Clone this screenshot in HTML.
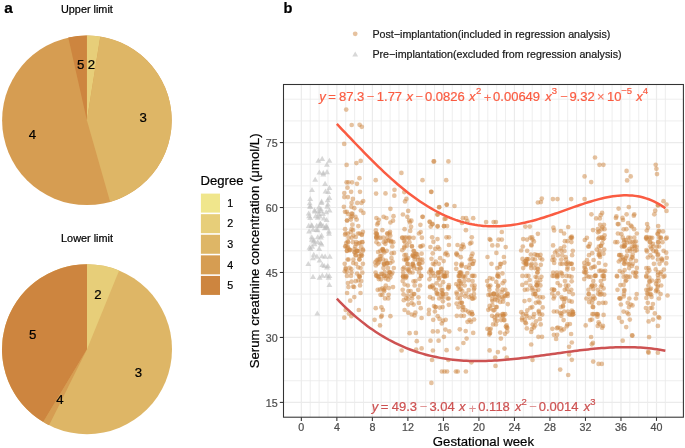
<!DOCTYPE html>
<html><head><meta charset="utf-8"><style>
html,body{margin:0;padding:0;background:#fff;width:685px;height:448px;overflow:hidden;}
svg{display:block;will-change:transform;font-family:"Liberation Sans", sans-serif;}
</style></head><body>
<svg width="685" height="448" viewBox="0 0 685 448" font-family="'Liberation Sans', sans-serif">
<text x="4.3" y="12.7" font-size="15.4" font-weight="bold" fill="#000" stroke="#000" stroke-width="0.22">a</text>
<text x="86.9" y="13.1" font-size="10.85" text-anchor="middle" fill="#000" stroke="#000" stroke-width="0.22">Upper limit</text>
<circle cx="86.9" cy="120.3" r="84.8" fill="#D69D52"/>
<path d="M86.90,120.30 L86.90,35.50 A84.8,84.8 0 0 1 100.31,36.57 Z" fill="#E7CE79"/>
<path d="M86.90,120.30 L100.31,36.57 A84.8,84.8 0 0 1 110.13,201.86 Z" fill="#DEB666"/>
<path d="M86.90,120.30 L68.26,37.57 A84.8,84.8 0 0 1 86.90,35.50 Z" fill="#CD853F"/>
<text x="91.32" y="69.17" text-anchor="middle" font-size="13.2" fill="#000" stroke="#000" stroke-width="0.22">2</text>
<text x="143.09" y="121.72" text-anchor="middle" font-size="13.2" fill="#000" stroke="#000" stroke-width="0.22">3</text>
<text x="32.34" y="139.21" text-anchor="middle" font-size="13.2" fill="#000" stroke="#000" stroke-width="0.22">4</text>
<text x="80.67" y="69.35" text-anchor="middle" font-size="13.2" fill="#000" stroke="#000" stroke-width="0.22">5</text>
<text x="87" y="242.0" font-size="10.85" text-anchor="middle" fill="#000" stroke="#000" stroke-width="0.22">Lower limit</text>
<circle cx="87" cy="349.2" r="85.0" fill="#DEB666"/>
<path d="M87.00,349.20 L87.00,264.20 A85.0,85.0 0 0 1 119.12,270.50 Z" fill="#E7CE79"/>
<path d="M87.00,349.20 L49.07,425.27 A85.0,85.0 0 0 1 43.22,422.06 Z" fill="#D69D52"/>
<path d="M87.00,349.20 L43.22,422.06 A85.0,85.0 0 0 1 87.00,264.20 Z" fill="#CD853F"/>
<text x="97.88" y="298.76" text-anchor="middle" font-size="13.2" fill="#000" stroke="#000" stroke-width="0.22">2</text>
<text x="138.49" y="377.45" text-anchor="middle" font-size="13.2" fill="#000" stroke="#000" stroke-width="0.22">3</text>
<text x="59.82" y="403.74" text-anchor="middle" font-size="13.2" fill="#000" stroke="#000" stroke-width="0.22">4</text>
<text x="32.55" y="339.10" text-anchor="middle" font-size="13.2" fill="#000" stroke="#000" stroke-width="0.22">5</text>
<text x="200.6" y="184.6" font-size="13.1" fill="#000" stroke="#000" stroke-width="0.22">Degree</text>
<rect x="200.9" y="193.60" width="19.1" height="19.0" fill="#F0E68C"/>
<text x="227.3" y="206.80" font-size="10.7" fill="#000" stroke="#000" stroke-width="0.22">1</text>
<rect x="200.9" y="214.18" width="19.1" height="19.0" fill="#E7CE79"/>
<text x="227.3" y="227.38" font-size="10.7" fill="#000" stroke="#000" stroke-width="0.22">2</text>
<rect x="200.9" y="234.76" width="19.1" height="19.0" fill="#DEB666"/>
<text x="227.3" y="247.96" font-size="10.7" fill="#000" stroke="#000" stroke-width="0.22">3</text>
<rect x="200.9" y="255.34" width="19.1" height="19.0" fill="#D69D52"/>
<text x="227.3" y="268.54" font-size="10.7" fill="#000" stroke="#000" stroke-width="0.22">4</text>
<rect x="200.9" y="275.92" width="19.1" height="19.0" fill="#CD853F"/>
<text x="227.3" y="289.12" font-size="10.7" fill="#000" stroke="#000" stroke-width="0.22">5</text>
<text x="283.6" y="12.6" font-size="14.6" font-weight="bold" fill="#000" stroke="#000" stroke-width="0.22">b</text>
<circle cx="355.2" cy="33.8" r="2.4" fill="#CD853F" fill-opacity="0.5"/>
<text x="372.4" y="37.8" font-size="10.7" fill="#1a1a1a" stroke="#1a1a1a" stroke-width="0.22">Post−implantation(included in regression analysis)</text>
<polygon points="355.20,51.44 358.10,56.46 352.30,56.46" fill="#BEBEBE" fill-opacity="0.6"/>
<text x="372.4" y="58.2" font-size="10.7" fill="#1a1a1a" stroke="#1a1a1a" stroke-width="0.22">Pre−implantation(excluded from regression analysis)</text>
<line x1="283.5" x2="683.4" y1="402.40" y2="402.40" stroke="#EBEBEB" stroke-width="1.2"/>
<line x1="283.5" x2="683.4" y1="380.75" y2="380.75" stroke="#EBEBEB" stroke-width="0.85"/>
<line x1="283.5" x2="683.4" y1="359.09" y2="359.09" stroke="#EBEBEB" stroke-width="0.85"/>
<line x1="283.5" x2="683.4" y1="337.44" y2="337.44" stroke="#EBEBEB" stroke-width="1.2"/>
<line x1="283.5" x2="683.4" y1="315.79" y2="315.79" stroke="#EBEBEB" stroke-width="0.85"/>
<line x1="283.5" x2="683.4" y1="294.13" y2="294.13" stroke="#EBEBEB" stroke-width="0.85"/>
<line x1="283.5" x2="683.4" y1="272.48" y2="272.48" stroke="#EBEBEB" stroke-width="1.2"/>
<line x1="283.5" x2="683.4" y1="250.83" y2="250.83" stroke="#EBEBEB" stroke-width="0.85"/>
<line x1="283.5" x2="683.4" y1="229.17" y2="229.17" stroke="#EBEBEB" stroke-width="0.85"/>
<line x1="283.5" x2="683.4" y1="207.52" y2="207.52" stroke="#EBEBEB" stroke-width="1.2"/>
<line x1="283.5" x2="683.4" y1="185.86" y2="185.86" stroke="#EBEBEB" stroke-width="0.85"/>
<line x1="283.5" x2="683.4" y1="164.21" y2="164.21" stroke="#EBEBEB" stroke-width="0.85"/>
<line x1="283.5" x2="683.4" y1="142.56" y2="142.56" stroke="#EBEBEB" stroke-width="1.2"/>
<line x1="283.5" x2="683.4" y1="120.90" y2="120.90" stroke="#EBEBEB" stroke-width="0.85"/>
<line x1="283.5" x2="683.4" y1="99.25" y2="99.25" stroke="#EBEBEB" stroke-width="0.85"/>
<line x1="301.34" x2="301.34" y1="84.5" y2="417.2" stroke="#EBEBEB" stroke-width="1.2"/>
<line x1="310.22" x2="310.22" y1="84.5" y2="417.2" stroke="#EBEBEB" stroke-width="0.85"/>
<line x1="319.10" x2="319.10" y1="84.5" y2="417.2" stroke="#EBEBEB" stroke-width="0.85"/>
<line x1="327.98" x2="327.98" y1="84.5" y2="417.2" stroke="#EBEBEB" stroke-width="0.85"/>
<line x1="336.86" x2="336.86" y1="84.5" y2="417.2" stroke="#EBEBEB" stroke-width="1.2"/>
<line x1="345.73" x2="345.73" y1="84.5" y2="417.2" stroke="#EBEBEB" stroke-width="0.85"/>
<line x1="354.61" x2="354.61" y1="84.5" y2="417.2" stroke="#EBEBEB" stroke-width="0.85"/>
<line x1="363.49" x2="363.49" y1="84.5" y2="417.2" stroke="#EBEBEB" stroke-width="0.85"/>
<line x1="372.37" x2="372.37" y1="84.5" y2="417.2" stroke="#EBEBEB" stroke-width="1.2"/>
<line x1="381.25" x2="381.25" y1="84.5" y2="417.2" stroke="#EBEBEB" stroke-width="0.85"/>
<line x1="390.13" x2="390.13" y1="84.5" y2="417.2" stroke="#EBEBEB" stroke-width="0.85"/>
<line x1="399.01" x2="399.01" y1="84.5" y2="417.2" stroke="#EBEBEB" stroke-width="0.85"/>
<line x1="407.89" x2="407.89" y1="84.5" y2="417.2" stroke="#EBEBEB" stroke-width="1.2"/>
<line x1="416.77" x2="416.77" y1="84.5" y2="417.2" stroke="#EBEBEB" stroke-width="0.85"/>
<line x1="425.65" x2="425.65" y1="84.5" y2="417.2" stroke="#EBEBEB" stroke-width="0.85"/>
<line x1="434.52" x2="434.52" y1="84.5" y2="417.2" stroke="#EBEBEB" stroke-width="0.85"/>
<line x1="443.40" x2="443.40" y1="84.5" y2="417.2" stroke="#EBEBEB" stroke-width="1.2"/>
<line x1="452.28" x2="452.28" y1="84.5" y2="417.2" stroke="#EBEBEB" stroke-width="0.85"/>
<line x1="461.16" x2="461.16" y1="84.5" y2="417.2" stroke="#EBEBEB" stroke-width="0.85"/>
<line x1="470.04" x2="470.04" y1="84.5" y2="417.2" stroke="#EBEBEB" stroke-width="0.85"/>
<line x1="478.92" x2="478.92" y1="84.5" y2="417.2" stroke="#EBEBEB" stroke-width="1.2"/>
<line x1="487.80" x2="487.80" y1="84.5" y2="417.2" stroke="#EBEBEB" stroke-width="0.85"/>
<line x1="496.68" x2="496.68" y1="84.5" y2="417.2" stroke="#EBEBEB" stroke-width="0.85"/>
<line x1="505.56" x2="505.56" y1="84.5" y2="417.2" stroke="#EBEBEB" stroke-width="0.85"/>
<line x1="514.44" x2="514.44" y1="84.5" y2="417.2" stroke="#EBEBEB" stroke-width="1.2"/>
<line x1="523.31" x2="523.31" y1="84.5" y2="417.2" stroke="#EBEBEB" stroke-width="0.85"/>
<line x1="532.19" x2="532.19" y1="84.5" y2="417.2" stroke="#EBEBEB" stroke-width="0.85"/>
<line x1="541.07" x2="541.07" y1="84.5" y2="417.2" stroke="#EBEBEB" stroke-width="0.85"/>
<line x1="549.95" x2="549.95" y1="84.5" y2="417.2" stroke="#EBEBEB" stroke-width="1.2"/>
<line x1="558.83" x2="558.83" y1="84.5" y2="417.2" stroke="#EBEBEB" stroke-width="0.85"/>
<line x1="567.71" x2="567.71" y1="84.5" y2="417.2" stroke="#EBEBEB" stroke-width="0.85"/>
<line x1="576.59" x2="576.59" y1="84.5" y2="417.2" stroke="#EBEBEB" stroke-width="0.85"/>
<line x1="585.47" x2="585.47" y1="84.5" y2="417.2" stroke="#EBEBEB" stroke-width="1.2"/>
<line x1="594.35" x2="594.35" y1="84.5" y2="417.2" stroke="#EBEBEB" stroke-width="0.85"/>
<line x1="603.23" x2="603.23" y1="84.5" y2="417.2" stroke="#EBEBEB" stroke-width="0.85"/>
<line x1="612.11" x2="612.11" y1="84.5" y2="417.2" stroke="#EBEBEB" stroke-width="0.85"/>
<line x1="620.98" x2="620.98" y1="84.5" y2="417.2" stroke="#EBEBEB" stroke-width="1.2"/>
<line x1="629.86" x2="629.86" y1="84.5" y2="417.2" stroke="#EBEBEB" stroke-width="0.85"/>
<line x1="638.74" x2="638.74" y1="84.5" y2="417.2" stroke="#EBEBEB" stroke-width="0.85"/>
<line x1="647.62" x2="647.62" y1="84.5" y2="417.2" stroke="#EBEBEB" stroke-width="0.85"/>
<line x1="656.50" x2="656.50" y1="84.5" y2="417.2" stroke="#EBEBEB" stroke-width="1.2"/>
<line x1="665.38" x2="665.38" y1="84.5" y2="417.2" stroke="#EBEBEB" stroke-width="0.85"/>
<g fill="#BEBEBE" fill-opacity="0.6"><polygon points="318.40,157.69 321.35,162.80 315.45,162.80"/><polygon points="322.20,155.79 325.15,160.90 319.25,160.90"/><polygon points="329.40,157.69 332.35,162.80 326.45,162.80"/><polygon points="326.90,161.69 329.85,166.80 323.95,166.80"/><polygon points="319.40,169.49 322.35,174.60 316.45,174.60"/><polygon points="323.30,169.89 326.25,175.00 320.35,175.00"/><polygon points="327.00,169.09 329.95,174.20 324.05,174.20"/><polygon points="323.30,171.39 326.25,176.50 320.35,176.50"/><polygon points="315.20,176.69 318.15,181.80 312.25,181.80"/><polygon points="325.10,180.79 328.05,185.90 322.15,185.90"/><polygon points="329.40,184.99 332.35,190.10 326.45,190.10"/><polygon points="312.00,186.99 314.95,192.10 309.05,192.10"/><polygon points="325.50,188.49 328.45,193.60 322.55,193.60"/><polygon points="328.20,188.89 331.15,194.00 325.25,194.00"/><polygon points="310.20,195.94 313.15,201.05 307.25,201.05"/><polygon points="329.40,194.79 332.35,199.90 326.45,199.90"/><polygon points="327.70,197.09 330.65,202.20 324.75,202.20"/><polygon points="321.40,199.89 324.35,205.00 318.45,205.00"/><polygon points="309.70,200.19 312.65,205.30 306.75,205.30"/><polygon points="327.80,201.39 330.75,206.50 324.85,206.50"/><polygon points="309.80,203.39 312.75,208.50 306.85,208.50"/><polygon points="318.80,204.49 321.75,209.60 315.85,209.60"/><polygon points="320.80,206.09 323.75,211.20 317.85,211.20"/><polygon points="314.50,207.29 317.45,212.40 311.55,212.40"/><polygon points="326.25,209.19 329.20,214.30 323.30,214.30"/><polygon points="308.70,210.39 311.65,215.50 305.75,215.50"/><polygon points="314.90,208.39 317.85,213.50 311.95,213.50"/><polygon points="318.40,208.39 321.35,213.50 315.45,213.50"/><polygon points="320.80,207.99 323.75,213.10 317.85,213.10"/><polygon points="309.10,213.09 312.05,218.20 306.15,218.20"/><polygon points="310.20,214.99 313.15,220.10 307.25,220.10"/><polygon points="315.70,213.09 318.65,218.20 312.75,218.20"/><polygon points="317.70,214.59 320.65,219.70 314.75,219.70"/><polygon points="320.00,213.44 322.95,218.55 317.05,218.55"/><polygon points="323.90,215.39 326.85,220.50 320.95,220.50"/><polygon points="326.60,216.99 329.55,222.10 323.65,222.10"/><polygon points="308.70,222.79 311.65,227.90 305.75,227.90"/><polygon points="311.80,222.79 314.75,227.90 308.85,227.90"/><polygon points="320.40,220.49 323.35,225.60 317.45,225.60"/><polygon points="319.60,222.79 322.55,227.90 316.65,227.90"/><polygon points="326.25,222.79 329.20,227.90 323.30,227.90"/><polygon points="327.00,224.39 329.95,229.50 324.05,229.50"/><polygon points="324.70,225.19 327.65,230.30 321.75,230.30"/><polygon points="309.10,228.29 312.05,233.40 306.15,233.40"/><polygon points="313.00,226.69 315.95,231.80 310.05,231.80"/><polygon points="317.70,227.09 320.65,232.20 314.75,232.20"/><polygon points="329.00,230.59 331.95,235.70 326.05,235.70"/><polygon points="311.80,234.19 314.75,239.30 308.85,239.30"/><polygon points="317.70,234.19 320.65,239.30 314.75,239.30"/><polygon points="321.60,232.59 324.55,237.70 318.65,237.70"/><polygon points="320.80,234.49 323.75,239.60 317.85,239.60"/><polygon points="313.75,238.44 316.70,243.55 310.80,243.55"/><polygon points="317.70,239.19 320.65,244.30 314.75,244.30"/><polygon points="320.80,239.99 323.75,245.10 317.85,245.10"/><polygon points="314.50,241.09 317.45,246.20 311.55,246.20"/><polygon points="321.60,241.49 324.55,246.60 318.65,246.60"/><polygon points="309.50,244.59 312.45,249.70 306.55,249.70"/><polygon points="310.60,245.79 313.55,250.90 307.65,250.90"/><polygon points="319.20,245.79 322.15,250.90 316.25,250.90"/><polygon points="313.75,251.69 316.70,256.80 310.80,256.80"/><polygon points="316.90,253.59 319.85,258.70 313.95,258.70"/><polygon points="313.00,255.19 315.95,260.30 310.05,260.30"/><polygon points="322.00,253.19 324.95,258.30 319.05,258.30"/><polygon points="325.10,253.59 328.05,258.70 322.15,258.70"/><polygon points="329.80,253.59 332.75,258.70 326.85,258.70"/><polygon points="319.60,257.49 322.55,262.60 316.65,262.60"/><polygon points="308.30,260.99 311.25,266.10 305.35,266.10"/><polygon points="322.30,261.79 325.25,266.90 319.35,266.90"/><polygon points="324.30,262.99 327.25,268.10 321.35,268.10"/><polygon points="327.80,262.99 330.75,268.10 324.85,268.10"/><polygon points="327.00,264.49 329.95,269.60 324.05,269.60"/><polygon points="313.00,273.79 315.95,278.90 310.05,278.90"/><polygon points="319.60,274.59 322.55,279.70 316.65,279.70"/><polygon points="322.30,272.59 325.25,277.70 319.35,277.70"/><polygon points="326.60,272.59 329.55,277.70 323.65,277.70"/><polygon points="329.40,272.99 332.35,278.10 326.45,278.10"/><polygon points="328.60,274.59 331.55,279.70 325.65,279.70"/><polygon points="329.40,281.99 332.35,287.10 326.45,287.10"/><polygon points="317.30,310.49 320.25,315.60 314.35,315.60"/><polygon points="311.70,222.15 314.65,227.26 308.75,227.26"/><polygon points="321.63,198.62 324.58,203.73 318.68,203.73"/><polygon points="312.11,243.60 315.06,248.71 309.16,248.71"/><polygon points="310.48,203.68 313.43,208.79 307.53,208.79"/><polygon points="328.91,228.28 331.86,233.39 325.96,233.39"/><polygon points="316.75,222.76 319.70,227.87 313.80,227.87"/><polygon points="322.92,210.96 325.87,216.06 319.97,216.06"/><polygon points="311.90,236.59 314.85,241.70 308.95,241.70"/><polygon points="323.08,222.81 326.03,227.92 320.13,227.92"/><polygon points="326.15,224.64 329.10,229.75 323.20,229.75"/><polygon points="329.60,207.42 332.55,212.52 326.65,212.52"/><polygon points="320.63,221.37 323.58,226.48 317.68,226.48"/><polygon points="316.42,226.77 319.37,231.88 313.47,231.88"/><polygon points="313.94,237.30 316.89,242.41 310.99,242.41"/><polygon points="327.21,203.63 330.16,208.74 324.26,208.74"/><polygon points="318.81,211.05 321.76,216.16 315.86,216.16"/></g>
<g fill="#CD853F" fill-opacity="0.5"><circle cx="346.2" cy="109.6" r="2.35"/><circle cx="351.7" cy="125.0" r="2.35"/><circle cx="359.6" cy="124.8" r="2.35"/><circle cx="361.8" cy="126.8" r="2.35"/><circle cx="344.2" cy="143.9" r="2.35"/><circle cx="346.6" cy="164.9" r="2.35"/><circle cx="356.4" cy="163.1" r="2.35"/><circle cx="360.7" cy="160.9" r="2.35"/><circle cx="359.5" cy="178.2" r="2.35"/><circle cx="346.6" cy="182.3" r="2.35"/><circle cx="348.4" cy="182.3" r="2.35"/><circle cx="352.0" cy="182.3" r="2.35"/><circle cx="357.0" cy="183.8" r="2.35"/><circle cx="347.5" cy="187.7" r="2.35"/><circle cx="344.3" cy="193.0" r="2.35"/><circle cx="351.1" cy="191.8" r="2.35"/><circle cx="360.0" cy="191.8" r="2.35"/><circle cx="344.3" cy="197.1" r="2.35"/><circle cx="347.9" cy="197.1" r="2.35"/><circle cx="352.9" cy="198.9" r="2.35"/><circle cx="357.3" cy="202.9" r="2.35"/><circle cx="363.2" cy="201.1" r="2.35"/><circle cx="361.4" cy="202.9" r="2.35"/><circle cx="351.6" cy="202.9" r="2.35"/><circle cx="343.9" cy="206.8" r="2.35"/><circle cx="351.4" cy="206.8" r="2.35"/><circle cx="354.3" cy="208.2" r="2.35"/><circle cx="360.9" cy="210.5" r="2.35"/><circle cx="348.4" cy="287.1" r="2.35"/><circle cx="347.1" cy="293.0" r="2.35"/><circle cx="354.3" cy="297.1" r="2.35"/><circle cx="360.5" cy="293.0" r="2.35"/><circle cx="350.2" cy="300.7" r="2.35"/><circle cx="358.8" cy="310.0" r="2.35"/><circle cx="345.7" cy="310.0" r="2.35"/><circle cx="348.9" cy="313.6" r="2.35"/><circle cx="351.4" cy="316.2" r="2.35"/><circle cx="344.3" cy="317.7" r="2.35"/><circle cx="375.7" cy="180.2" r="2.35"/><circle cx="376.1" cy="193.6" r="2.35"/><circle cx="385.5" cy="193.4" r="2.35"/><circle cx="394.5" cy="189.8" r="2.35"/><circle cx="394.3" cy="195.7" r="2.35"/><circle cx="390.4" cy="208.8" r="2.35"/><circle cx="376.4" cy="218.0" r="2.35"/><circle cx="378.8" cy="219.8" r="2.35"/><circle cx="383.6" cy="216.8" r="2.35"/><circle cx="386.4" cy="218.0" r="2.35"/><circle cx="393.5" cy="216.2" r="2.35"/><circle cx="393.0" cy="220.7" r="2.35"/><circle cx="390.4" cy="222.5" r="2.35"/><circle cx="380.5" cy="294.8" r="2.35"/><circle cx="382.3" cy="294.8" r="2.35"/><circle cx="388.6" cy="294.8" r="2.35"/><circle cx="384.1" cy="291.2" r="2.35"/><circle cx="385.0" cy="298.4" r="2.35"/><circle cx="388.2" cy="298.4" r="2.35"/><circle cx="375.7" cy="308.2" r="2.35"/><circle cx="381.4" cy="307.3" r="2.35"/><circle cx="382.9" cy="310.0" r="2.35"/><circle cx="381.1" cy="316.8" r="2.35"/><circle cx="381.8" cy="315.7" r="2.35"/><circle cx="374.6" cy="319.8" r="2.35"/><circle cx="390.4" cy="316.2" r="2.35"/><circle cx="380.0" cy="325.4" r="2.35"/><circle cx="393.0" cy="287.1" r="2.35"/><circle cx="401.4" cy="172.9" r="2.35"/><circle cx="404.3" cy="192.1" r="2.35"/><circle cx="406.4" cy="198.9" r="2.35"/><circle cx="405.0" cy="201.4" r="2.35"/><circle cx="408.2" cy="210.9" r="2.35"/><circle cx="402.9" cy="214.5" r="2.35"/><circle cx="407.3" cy="216.8" r="2.35"/><circle cx="422.5" cy="216.8" r="2.35"/><circle cx="411.4" cy="220.7" r="2.35"/><circle cx="410.0" cy="222.5" r="2.35"/><circle cx="422.5" cy="180.2" r="2.35"/><circle cx="422.7" cy="216.8" r="2.35"/><circle cx="403.8" cy="300.2" r="2.35"/><circle cx="408.2" cy="304.6" r="2.35"/><circle cx="413.6" cy="304.6" r="2.35"/><circle cx="418.9" cy="302.9" r="2.35"/><circle cx="420.7" cy="308.2" r="2.35"/><circle cx="404.6" cy="310.0" r="2.35"/><circle cx="408.2" cy="312.7" r="2.35"/><circle cx="411.8" cy="314.5" r="2.35"/><circle cx="415.4" cy="312.7" r="2.35"/><circle cx="414.5" cy="315.4" r="2.35"/><circle cx="421.6" cy="318.0" r="2.35"/><circle cx="409.6" cy="333.2" r="2.35"/><circle cx="415.9" cy="332.9" r="2.35"/><circle cx="416.8" cy="341.2" r="2.35"/><circle cx="401.6" cy="350.5" r="2.35"/><circle cx="421.6" cy="348.4" r="2.35"/><circle cx="416.2" cy="349.6" r="2.35"/><circle cx="434.1" cy="161.4" r="2.35"/><circle cx="433.6" cy="161.4" r="2.35"/><circle cx="448.4" cy="161.4" r="2.35"/><circle cx="431.4" cy="191.8" r="2.35"/><circle cx="446.2" cy="180.2" r="2.35"/><circle cx="446.6" cy="204.6" r="2.35"/><circle cx="439.1" cy="207.3" r="2.35"/><circle cx="437.7" cy="214.5" r="2.35"/><circle cx="445.7" cy="218.6" r="2.35"/><circle cx="429.6" cy="221.6" r="2.35"/><circle cx="432.3" cy="224.3" r="2.35"/><circle cx="437.7" cy="226.1" r="2.35"/><circle cx="443.9" cy="226.1" r="2.35"/><circle cx="447.1" cy="226.1" r="2.35"/><circle cx="431.1" cy="191.8" r="2.35"/><circle cx="439.3" cy="207.0" r="2.35"/><circle cx="446.8" cy="204.8" r="2.35"/><circle cx="437.3" cy="214.6" r="2.35"/><circle cx="429.8" cy="222.1" r="2.35"/><circle cx="432.5" cy="223.9" r="2.35"/><circle cx="430.7" cy="226.6" r="2.35"/><circle cx="437.5" cy="226.6" r="2.35"/><circle cx="444.6" cy="218.9" r="2.35"/><circle cx="444.1" cy="226.2" r="2.35"/><circle cx="432.1" cy="237.3" r="2.35"/><circle cx="437.5" cy="239.1" r="2.35"/><circle cx="433.4" cy="241.8" r="2.35"/><circle cx="446.4" cy="237.3" r="2.35"/><circle cx="448.9" cy="237.3" r="2.35"/><circle cx="448.9" cy="245.0" r="2.35"/><circle cx="430.4" cy="247.1" r="2.35"/><circle cx="435.2" cy="248.9" r="2.35"/><circle cx="437.9" cy="247.1" r="2.35"/><circle cx="439.3" cy="248.9" r="2.35"/><circle cx="446.4" cy="252.9" r="2.35"/><circle cx="447.7" cy="255.2" r="2.35"/><circle cx="428.8" cy="313.9" r="2.35"/><circle cx="433.2" cy="319.8" r="2.35"/><circle cx="437.7" cy="316.2" r="2.35"/><circle cx="439.5" cy="318.9" r="2.35"/><circle cx="443.0" cy="320.7" r="2.35"/><circle cx="445.7" cy="319.8" r="2.35"/><circle cx="441.8" cy="323.4" r="2.35"/><circle cx="432.9" cy="331.4" r="2.35"/><circle cx="437.7" cy="331.4" r="2.35"/><circle cx="445.4" cy="329.6" r="2.35"/><circle cx="449.3" cy="331.4" r="2.35"/><circle cx="443.9" cy="336.8" r="2.35"/><circle cx="430.5" cy="340.7" r="2.35"/><circle cx="438.6" cy="340.7" r="2.35"/><circle cx="432.9" cy="350.5" r="2.35"/><circle cx="446.6" cy="350.2" r="2.35"/><circle cx="432.0" cy="360.0" r="2.35"/><circle cx="448.4" cy="360.0" r="2.35"/><circle cx="441.9" cy="371.5" r="2.35"/><circle cx="444.5" cy="371.5" r="2.35"/><circle cx="447.1" cy="371.5" r="2.35"/><circle cx="431.4" cy="382.9" r="2.35"/><circle cx="454.5" cy="206.0" r="2.35"/><circle cx="462.9" cy="218.2" r="2.35"/><circle cx="466.1" cy="218.2" r="2.35"/><circle cx="473.2" cy="218.2" r="2.35"/><circle cx="462.0" cy="223.0" r="2.35"/><circle cx="467.3" cy="221.2" r="2.35"/><circle cx="465.9" cy="230.2" r="2.35"/><circle cx="471.8" cy="237.3" r="2.35"/><circle cx="457.5" cy="245.0" r="2.35"/><circle cx="462.9" cy="244.5" r="2.35"/><circle cx="463.8" cy="247.1" r="2.35"/><circle cx="470.0" cy="243.6" r="2.35"/><circle cx="471.4" cy="242.7" r="2.35"/><circle cx="467.5" cy="321.8" r="2.35"/><circle cx="471.1" cy="321.8" r="2.35"/><circle cx="474.1" cy="319.5" r="2.35"/><circle cx="459.8" cy="329.3" r="2.35"/><circle cx="465.7" cy="331.1" r="2.35"/><circle cx="473.2" cy="332.9" r="2.35"/><circle cx="466.6" cy="338.6" r="2.35"/><circle cx="463.4" cy="343.0" r="2.35"/><circle cx="457.5" cy="348.6" r="2.35"/><circle cx="471.4" cy="362.3" r="2.35"/><circle cx="455.9" cy="371.5" r="2.35"/><circle cx="457.7" cy="371.5" r="2.35"/><circle cx="465.9" cy="371.5" r="2.35"/><circle cx="486.1" cy="222.1" r="2.35"/><circle cx="493.6" cy="222.1" r="2.35"/><circle cx="495.9" cy="222.1" r="2.35"/><circle cx="501.8" cy="232.0" r="2.35"/><circle cx="489.6" cy="239.1" r="2.35"/><circle cx="490.5" cy="240.0" r="2.35"/><circle cx="498.6" cy="239.6" r="2.35"/><circle cx="501.8" cy="239.6" r="2.35"/><circle cx="492.3" cy="245.4" r="2.35"/><circle cx="497.7" cy="245.4" r="2.35"/><circle cx="505.7" cy="247.1" r="2.35"/><circle cx="496.4" cy="252.9" r="2.35"/><circle cx="487.5" cy="257.0" r="2.35"/><circle cx="503.9" cy="257.0" r="2.35"/><circle cx="489.3" cy="334.6" r="2.35"/><circle cx="500.9" cy="338.6" r="2.35"/><circle cx="489.6" cy="350.4" r="2.35"/><circle cx="497.9" cy="352.1" r="2.35"/><circle cx="504.5" cy="348.6" r="2.35"/><circle cx="495.2" cy="357.5" r="2.35"/><circle cx="506.8" cy="357.5" r="2.35"/><circle cx="495.5" cy="365.9" r="2.35"/><circle cx="537.9" cy="202.5" r="2.35"/><circle cx="541.8" cy="198.6" r="2.35"/><circle cx="540.9" cy="202.1" r="2.35"/><circle cx="525.4" cy="226.6" r="2.35"/><circle cx="529.8" cy="226.6" r="2.35"/><circle cx="537.9" cy="233.8" r="2.35"/><circle cx="523.2" cy="239.1" r="2.35"/><circle cx="527.1" cy="239.6" r="2.35"/><circle cx="532.1" cy="237.3" r="2.35"/><circle cx="532.5" cy="239.6" r="2.35"/><circle cx="526.8" cy="328.4" r="2.35"/><circle cx="533.9" cy="327.5" r="2.35"/><circle cx="531.2" cy="332.0" r="2.35"/><circle cx="538.4" cy="336.8" r="2.35"/><circle cx="542.0" cy="336.8" r="2.35"/><circle cx="531.2" cy="344.5" r="2.35"/><circle cx="532.5" cy="360.0" r="2.35"/><circle cx="552.9" cy="199.1" r="2.35"/><circle cx="557.5" cy="199.1" r="2.35"/><circle cx="571.2" cy="199.1" r="2.35"/><circle cx="553.4" cy="227.7" r="2.35"/><circle cx="553.9" cy="334.8" r="2.35"/><circle cx="557.1" cy="334.8" r="2.35"/><circle cx="556.1" cy="338.9" r="2.35"/><circle cx="571.8" cy="342.5" r="2.35"/><circle cx="569.1" cy="346.8" r="2.35"/><circle cx="569.1" cy="354.5" r="2.35"/><circle cx="571.8" cy="359.8" r="2.35"/><circle cx="560.2" cy="369.6" r="2.35"/><circle cx="568.2" cy="375.0" r="2.35"/><circle cx="595.0" cy="157.5" r="2.35"/><circle cx="599.5" cy="164.8" r="2.35"/><circle cx="603.4" cy="164.8" r="2.35"/><circle cx="584.6" cy="176.4" r="2.35"/><circle cx="591.2" cy="182.1" r="2.35"/><circle cx="584.6" cy="199.1" r="2.35"/><circle cx="591.4" cy="214.3" r="2.35"/><circle cx="596.2" cy="218.4" r="2.35"/><circle cx="599.8" cy="218.4" r="2.35"/><circle cx="602.1" cy="212.9" r="2.35"/><circle cx="600.7" cy="215.2" r="2.35"/><circle cx="585.7" cy="325.4" r="2.35"/><circle cx="591.8" cy="319.6" r="2.35"/><circle cx="598.6" cy="322.3" r="2.35"/><circle cx="599.5" cy="324.1" r="2.35"/><circle cx="603.0" cy="325.9" r="2.35"/><circle cx="602.1" cy="327.7" r="2.35"/><circle cx="597.7" cy="325.9" r="2.35"/><circle cx="591.1" cy="337.0" r="2.35"/><circle cx="592.9" cy="342.9" r="2.35"/><circle cx="591.8" cy="344.3" r="2.35"/><circle cx="593.2" cy="361.6" r="2.35"/><circle cx="598.6" cy="363.9" r="2.35"/><circle cx="601.8" cy="363.9" r="2.35"/><circle cx="626.6" cy="170.9" r="2.35"/><circle cx="630.7" cy="176.4" r="2.35"/><circle cx="627.1" cy="180.4" r="2.35"/><circle cx="618.6" cy="208.6" r="2.35"/><circle cx="628.8" cy="207.1" r="2.35"/><circle cx="626.6" cy="214.3" r="2.35"/><circle cx="634.3" cy="214.3" r="2.35"/><circle cx="633.8" cy="215.7" r="2.35"/><circle cx="616.4" cy="216.4" r="2.35"/><circle cx="615.9" cy="217.9" r="2.35"/><circle cx="622.5" cy="217.9" r="2.35"/><circle cx="623.0" cy="220.0" r="2.35"/><circle cx="620.9" cy="304.5" r="2.35"/><circle cx="628.9" cy="307.1" r="2.35"/><circle cx="630.7" cy="304.5" r="2.35"/><circle cx="632.5" cy="305.4" r="2.35"/><circle cx="623.6" cy="311.6" r="2.35"/><circle cx="627.1" cy="312.5" r="2.35"/><circle cx="619.1" cy="317.9" r="2.35"/><circle cx="621.8" cy="321.8" r="2.35"/><circle cx="626.2" cy="327.1" r="2.35"/><circle cx="629.8" cy="319.6" r="2.35"/><circle cx="632.1" cy="335.4" r="2.35"/><circle cx="632.4" cy="335.6" r="2.35"/><circle cx="622.7" cy="340.7" r="2.35"/><circle cx="655.7" cy="164.8" r="2.35"/><circle cx="656.4" cy="168.8" r="2.35"/><circle cx="657.0" cy="174.1" r="2.35"/><circle cx="657.9" cy="205.4" r="2.35"/><circle cx="655.2" cy="210.7" r="2.35"/><circle cx="654.3" cy="214.3" r="2.35"/><circle cx="647.1" cy="224.1" r="2.35"/><circle cx="648.0" cy="227.7" r="2.35"/><circle cx="663.5" cy="201.2" r="2.35"/><circle cx="658.0" cy="205.0" r="2.35"/><circle cx="666.5" cy="204.5" r="2.35"/><circle cx="666.5" cy="210.9" r="2.35"/><circle cx="645.9" cy="308.0" r="2.35"/><circle cx="647.7" cy="311.6" r="2.35"/><circle cx="652.1" cy="308.0" r="2.35"/><circle cx="648.6" cy="321.4" r="2.35"/><circle cx="653.0" cy="319.6" r="2.35"/><circle cx="654.8" cy="313.4" r="2.35"/><circle cx="658.4" cy="317.0" r="2.35"/><circle cx="659.3" cy="317.9" r="2.35"/><circle cx="657.9" cy="325.9" r="2.35"/><circle cx="649.1" cy="337.1" r="2.35"/><circle cx="648.2" cy="351.8" r="2.35"/><circle cx="648.6" cy="352.7" r="2.35"/><circle cx="657.9" cy="352.7" r="2.35"/><circle cx="356.4" cy="242.2" r="2.35"/><circle cx="350.2" cy="250.1" r="2.35"/><circle cx="359.6" cy="233.5" r="2.35"/><circle cx="349.3" cy="249.3" r="2.35"/><circle cx="363.4" cy="212.9" r="2.35"/><circle cx="348.6" cy="259.5" r="2.35"/><circle cx="345.2" cy="246.4" r="2.35"/><circle cx="356.5" cy="250.8" r="2.35"/><circle cx="344.7" cy="263.8" r="2.35"/><circle cx="351.5" cy="272.5" r="2.35"/><circle cx="349.6" cy="250.2" r="2.35"/><circle cx="356.7" cy="219.6" r="2.35"/><circle cx="354.1" cy="287.0" r="2.35"/><circle cx="345.6" cy="233.5" r="2.35"/><circle cx="360.0" cy="285.4" r="2.35"/><circle cx="356.0" cy="263.8" r="2.35"/><circle cx="352.9" cy="242.2" r="2.35"/><circle cx="362.9" cy="263.8" r="2.35"/><circle cx="361.1" cy="247.2" r="2.35"/><circle cx="362.5" cy="242.2" r="2.35"/><circle cx="348.2" cy="242.2" r="2.35"/><circle cx="361.3" cy="254.3" r="2.35"/><circle cx="352.3" cy="213.9" r="2.35"/><circle cx="353.4" cy="235.5" r="2.35"/><circle cx="345.0" cy="211.8" r="2.35"/><circle cx="362.9" cy="231.9" r="2.35"/><circle cx="361.1" cy="255.9" r="2.35"/><circle cx="351.3" cy="269.2" r="2.35"/><circle cx="347.4" cy="247.5" r="2.35"/><circle cx="359.9" cy="242.8" r="2.35"/><circle cx="344.8" cy="271.3" r="2.35"/><circle cx="358.3" cy="226.1" r="2.35"/><circle cx="347.9" cy="283.1" r="2.35"/><circle cx="351.0" cy="275.9" r="2.35"/><circle cx="363.1" cy="250.6" r="2.35"/><circle cx="358.6" cy="243.4" r="2.35"/><circle cx="352.3" cy="224.7" r="2.35"/><circle cx="354.4" cy="249.3" r="2.35"/><circle cx="357.4" cy="250.8" r="2.35"/><circle cx="352.1" cy="216.2" r="2.35"/><circle cx="361.9" cy="255.4" r="2.35"/><circle cx="355.8" cy="237.0" r="2.35"/><circle cx="353.4" cy="259.5" r="2.35"/><circle cx="345.7" cy="269.1" r="2.35"/><circle cx="358.4" cy="280.4" r="2.35"/><circle cx="361.2" cy="281.1" r="2.35"/><circle cx="345.1" cy="229.2" r="2.35"/><circle cx="348.1" cy="214.0" r="2.35"/><circle cx="347.7" cy="246.5" r="2.35"/><circle cx="362.3" cy="272.7" r="2.35"/><circle cx="356.1" cy="255.2" r="2.35"/><circle cx="359.7" cy="276.8" r="2.35"/><circle cx="350.9" cy="219.6" r="2.35"/><circle cx="359.7" cy="276.6" r="2.35"/><circle cx="347.0" cy="250.8" r="2.35"/><circle cx="355.4" cy="255.2" r="2.35"/><circle cx="357.1" cy="273.6" r="2.35"/><circle cx="350.7" cy="232.2" r="2.35"/><circle cx="347.6" cy="259.5" r="2.35"/><circle cx="355.2" cy="246.5" r="2.35"/><circle cx="353.2" cy="263.1" r="2.35"/><circle cx="347.0" cy="275.9" r="2.35"/><circle cx="351.6" cy="229.2" r="2.35"/><circle cx="350.8" cy="217.2" r="2.35"/><circle cx="355.5" cy="216.9" r="2.35"/><circle cx="347.0" cy="220.5" r="2.35"/><circle cx="361.7" cy="234.3" r="2.35"/><circle cx="356.3" cy="244.0" r="2.35"/><circle cx="351.6" cy="281.7" r="2.35"/><circle cx="359.3" cy="256.2" r="2.35"/><circle cx="345.7" cy="268.1" r="2.35"/><circle cx="349.6" cy="267.9" r="2.35"/><circle cx="346.9" cy="271.8" r="2.35"/><circle cx="358.2" cy="267.3" r="2.35"/><circle cx="359.3" cy="259.5" r="2.35"/><circle cx="358.9" cy="275.9" r="2.35"/><circle cx="351.7" cy="213.5" r="2.35"/><circle cx="354.8" cy="252.7" r="2.35"/><circle cx="351.7" cy="237.7" r="2.35"/><circle cx="347.1" cy="220.5" r="2.35"/><circle cx="358.0" cy="233.5" r="2.35"/><circle cx="346.2" cy="243.0" r="2.35"/><circle cx="353.0" cy="230.1" r="2.35"/><circle cx="348.6" cy="237.7" r="2.35"/><circle cx="345.1" cy="234.7" r="2.35"/><circle cx="353.1" cy="286.6" r="2.35"/><circle cx="361.9" cy="242.2" r="2.35"/><circle cx="346.9" cy="250.8" r="2.35"/><circle cx="347.8" cy="233.5" r="2.35"/><circle cx="357.2" cy="250.8" r="2.35"/><circle cx="354.3" cy="251.8" r="2.35"/><circle cx="359.5" cy="259.5" r="2.35"/><circle cx="346.7" cy="211.8" r="2.35"/><circle cx="362.9" cy="249.5" r="2.35"/><circle cx="361.9" cy="235.0" r="2.35"/><circle cx="345.8" cy="246.3" r="2.35"/><circle cx="359.0" cy="251.2" r="2.35"/><circle cx="360.6" cy="268.1" r="2.35"/><circle cx="347.7" cy="241.6" r="2.35"/><circle cx="355.8" cy="281.1" r="2.35"/><circle cx="384.8" cy="288.6" r="2.35"/><circle cx="390.3" cy="277.3" r="2.35"/><circle cx="387.2" cy="237.7" r="2.35"/><circle cx="388.2" cy="279.7" r="2.35"/><circle cx="379.0" cy="276.8" r="2.35"/><circle cx="388.8" cy="288.1" r="2.35"/><circle cx="382.8" cy="249.9" r="2.35"/><circle cx="376.6" cy="260.5" r="2.35"/><circle cx="375.8" cy="265.5" r="2.35"/><circle cx="376.4" cy="237.8" r="2.35"/><circle cx="391.7" cy="253.3" r="2.35"/><circle cx="388.4" cy="275.9" r="2.35"/><circle cx="386.8" cy="263.2" r="2.35"/><circle cx="382.7" cy="249.3" r="2.35"/><circle cx="382.2" cy="274.1" r="2.35"/><circle cx="381.4" cy="255.8" r="2.35"/><circle cx="389.9" cy="272.5" r="2.35"/><circle cx="382.4" cy="230.2" r="2.35"/><circle cx="387.6" cy="263.0" r="2.35"/><circle cx="378.5" cy="237.7" r="2.35"/><circle cx="394.0" cy="252.9" r="2.35"/><circle cx="386.0" cy="260.7" r="2.35"/><circle cx="380.1" cy="289.4" r="2.35"/><circle cx="376.4" cy="237.7" r="2.35"/><circle cx="378.8" cy="279.1" r="2.35"/><circle cx="384.0" cy="275.9" r="2.35"/><circle cx="385.4" cy="243.8" r="2.35"/><circle cx="389.6" cy="272.6" r="2.35"/><circle cx="383.5" cy="268.1" r="2.35"/><circle cx="387.2" cy="263.8" r="2.35"/><circle cx="384.1" cy="263.8" r="2.35"/><circle cx="393.3" cy="242.2" r="2.35"/><circle cx="376.3" cy="275.3" r="2.35"/><circle cx="378.7" cy="244.2" r="2.35"/><circle cx="384.3" cy="252.4" r="2.35"/><circle cx="389.6" cy="233.5" r="2.35"/><circle cx="383.3" cy="237.7" r="2.35"/><circle cx="387.2" cy="233.5" r="2.35"/><circle cx="380.4" cy="250.8" r="2.35"/><circle cx="378.1" cy="223.0" r="2.35"/><circle cx="378.1" cy="276.8" r="2.35"/><circle cx="386.7" cy="250.8" r="2.35"/><circle cx="378.1" cy="252.0" r="2.35"/><circle cx="375.9" cy="230.4" r="2.35"/><circle cx="379.1" cy="259.5" r="2.35"/><circle cx="381.0" cy="279.3" r="2.35"/><circle cx="393.8" cy="268.0" r="2.35"/><circle cx="385.8" cy="285.5" r="2.35"/><circle cx="384.7" cy="272.0" r="2.35"/><circle cx="383.0" cy="259.5" r="2.35"/><circle cx="376.5" cy="233.5" r="2.35"/><circle cx="383.5" cy="251.2" r="2.35"/><circle cx="387.9" cy="268.1" r="2.35"/><circle cx="390.0" cy="231.8" r="2.35"/><circle cx="388.0" cy="240.5" r="2.35"/><circle cx="380.1" cy="256.2" r="2.35"/><circle cx="377.2" cy="224.4" r="2.35"/><circle cx="391.1" cy="240.9" r="2.35"/><circle cx="386.6" cy="275.9" r="2.35"/><circle cx="391.4" cy="274.3" r="2.35"/><circle cx="389.1" cy="272.0" r="2.35"/><circle cx="382.4" cy="288.4" r="2.35"/><circle cx="378.9" cy="262.3" r="2.35"/><circle cx="391.3" cy="242.2" r="2.35"/><circle cx="376.5" cy="242.2" r="2.35"/><circle cx="376.2" cy="236.8" r="2.35"/><circle cx="392.5" cy="261.5" r="2.35"/><circle cx="376.4" cy="275.9" r="2.35"/><circle cx="390.3" cy="263.0" r="2.35"/><circle cx="391.5" cy="258.0" r="2.35"/><circle cx="389.4" cy="240.3" r="2.35"/><circle cx="383.9" cy="289.8" r="2.35"/><circle cx="375.8" cy="233.5" r="2.35"/><circle cx="385.8" cy="241.1" r="2.35"/><circle cx="381.1" cy="273.9" r="2.35"/><circle cx="390.3" cy="235.7" r="2.35"/><circle cx="384.3" cy="264.7" r="2.35"/><circle cx="377.6" cy="275.9" r="2.35"/><circle cx="380.1" cy="259.4" r="2.35"/><circle cx="385.6" cy="278.4" r="2.35"/><circle cx="376.9" cy="234.0" r="2.35"/><circle cx="392.3" cy="246.5" r="2.35"/><circle cx="383.9" cy="242.2" r="2.35"/><circle cx="384.3" cy="275.9" r="2.35"/><circle cx="377.7" cy="289.8" r="2.35"/><circle cx="377.2" cy="235.7" r="2.35"/><circle cx="375.2" cy="262.4" r="2.35"/><circle cx="387.6" cy="233.5" r="2.35"/><circle cx="380.4" cy="237.8" r="2.35"/><circle cx="383.8" cy="263.8" r="2.35"/><circle cx="375.6" cy="272.5" r="2.35"/><circle cx="382.7" cy="249.0" r="2.35"/><circle cx="392.4" cy="272.5" r="2.35"/><circle cx="377.7" cy="263.6" r="2.35"/><circle cx="377.8" cy="259.5" r="2.35"/><circle cx="422.4" cy="262.6" r="2.35"/><circle cx="404.2" cy="247.9" r="2.35"/><circle cx="402.7" cy="289.8" r="2.35"/><circle cx="413.9" cy="266.0" r="2.35"/><circle cx="416.3" cy="253.8" r="2.35"/><circle cx="410.6" cy="267.1" r="2.35"/><circle cx="407.6" cy="295.5" r="2.35"/><circle cx="409.8" cy="237.7" r="2.35"/><circle cx="417.9" cy="257.0" r="2.35"/><circle cx="411.1" cy="226.8" r="2.35"/><circle cx="413.9" cy="268.1" r="2.35"/><circle cx="406.9" cy="245.7" r="2.35"/><circle cx="409.9" cy="272.5" r="2.35"/><circle cx="404.2" cy="259.5" r="2.35"/><circle cx="415.4" cy="253.5" r="2.35"/><circle cx="407.3" cy="269.5" r="2.35"/><circle cx="405.2" cy="276.3" r="2.35"/><circle cx="406.2" cy="237.6" r="2.35"/><circle cx="408.0" cy="299.3" r="2.35"/><circle cx="402.9" cy="268.9" r="2.35"/><circle cx="409.1" cy="220.5" r="2.35"/><circle cx="413.6" cy="237.8" r="2.35"/><circle cx="403.5" cy="294.3" r="2.35"/><circle cx="406.3" cy="259.5" r="2.35"/><circle cx="422.2" cy="259.5" r="2.35"/><circle cx="408.7" cy="237.8" r="2.35"/><circle cx="404.6" cy="229.2" r="2.35"/><circle cx="421.0" cy="246.5" r="2.35"/><circle cx="418.7" cy="264.0" r="2.35"/><circle cx="404.1" cy="267.5" r="2.35"/><circle cx="419.2" cy="263.8" r="2.35"/><circle cx="420.7" cy="232.1" r="2.35"/><circle cx="419.1" cy="272.5" r="2.35"/><circle cx="402.7" cy="281.1" r="2.35"/><circle cx="420.2" cy="246.3" r="2.35"/><circle cx="402.2" cy="237.6" r="2.35"/><circle cx="412.6" cy="263.8" r="2.35"/><circle cx="407.9" cy="263.8" r="2.35"/><circle cx="403.0" cy="276.8" r="2.35"/><circle cx="412.7" cy="256.0" r="2.35"/><circle cx="421.9" cy="237.7" r="2.35"/><circle cx="419.5" cy="278.9" r="2.35"/><circle cx="406.4" cy="259.1" r="2.35"/><circle cx="406.1" cy="298.1" r="2.35"/><circle cx="403.2" cy="272.5" r="2.35"/><circle cx="407.3" cy="264.1" r="2.35"/><circle cx="412.6" cy="272.5" r="2.35"/><circle cx="421.0" cy="275.9" r="2.35"/><circle cx="420.1" cy="285.5" r="2.35"/><circle cx="417.1" cy="269.0" r="2.35"/><circle cx="403.1" cy="275.9" r="2.35"/><circle cx="409.4" cy="242.2" r="2.35"/><circle cx="404.0" cy="240.8" r="2.35"/><circle cx="420.7" cy="268.3" r="2.35"/><circle cx="406.3" cy="260.5" r="2.35"/><circle cx="412.9" cy="263.8" r="2.35"/><circle cx="404.6" cy="284.5" r="2.35"/><circle cx="405.0" cy="242.2" r="2.35"/><circle cx="406.0" cy="254.9" r="2.35"/><circle cx="406.3" cy="275.9" r="2.35"/><circle cx="411.7" cy="295.7" r="2.35"/><circle cx="408.5" cy="269.5" r="2.35"/><circle cx="420.4" cy="224.8" r="2.35"/><circle cx="422.8" cy="245.5" r="2.35"/><circle cx="402.3" cy="237.8" r="2.35"/><circle cx="411.9" cy="246.5" r="2.35"/><circle cx="419.0" cy="233.5" r="2.35"/><circle cx="413.4" cy="255.4" r="2.35"/><circle cx="410.2" cy="230.9" r="2.35"/><circle cx="418.1" cy="260.1" r="2.35"/><circle cx="417.1" cy="254.4" r="2.35"/><circle cx="405.7" cy="278.1" r="2.35"/><circle cx="420.3" cy="259.5" r="2.35"/><circle cx="421.3" cy="275.9" r="2.35"/><circle cx="421.6" cy="253.7" r="2.35"/><circle cx="414.7" cy="259.5" r="2.35"/><circle cx="413.5" cy="250.8" r="2.35"/><circle cx="414.6" cy="285.5" r="2.35"/><circle cx="414.0" cy="251.0" r="2.35"/><circle cx="404.5" cy="255.2" r="2.35"/><circle cx="418.3" cy="289.8" r="2.35"/><circle cx="404.5" cy="246.5" r="2.35"/><circle cx="412.8" cy="264.8" r="2.35"/><circle cx="420.0" cy="268.2" r="2.35"/><circle cx="411.7" cy="303.0" r="2.35"/><circle cx="414.2" cy="256.9" r="2.35"/><circle cx="403.2" cy="276.8" r="2.35"/><circle cx="408.8" cy="271.0" r="2.35"/><circle cx="402.3" cy="250.2" r="2.35"/><circle cx="413.5" cy="281.3" r="2.35"/><circle cx="408.1" cy="258.1" r="2.35"/><circle cx="414.6" cy="256.3" r="2.35"/><circle cx="414.2" cy="294.1" r="2.35"/><circle cx="410.6" cy="291.1" r="2.35"/><circle cx="411.9" cy="246.1" r="2.35"/><circle cx="407.9" cy="285.5" r="2.35"/><circle cx="419.8" cy="263.8" r="2.35"/><circle cx="418.5" cy="297.3" r="2.35"/><circle cx="408.4" cy="291.1" r="2.35"/><circle cx="404.6" cy="237.7" r="2.35"/><circle cx="415.4" cy="281.1" r="2.35"/><circle cx="412.0" cy="298.5" r="2.35"/><circle cx="412.7" cy="255.2" r="2.35"/><circle cx="413.7" cy="294.1" r="2.35"/><circle cx="406.3" cy="276.8" r="2.35"/><circle cx="447.0" cy="272.5" r="2.35"/><circle cx="429.0" cy="309.9" r="2.35"/><circle cx="430.2" cy="287.2" r="2.35"/><circle cx="443.3" cy="296.9" r="2.35"/><circle cx="431.0" cy="275.9" r="2.35"/><circle cx="448.9" cy="285.2" r="2.35"/><circle cx="434.7" cy="275.9" r="2.35"/><circle cx="435.5" cy="307.1" r="2.35"/><circle cx="429.2" cy="272.4" r="2.35"/><circle cx="443.7" cy="261.1" r="2.35"/><circle cx="430.0" cy="297.2" r="2.35"/><circle cx="441.3" cy="269.3" r="2.35"/><circle cx="431.5" cy="258.8" r="2.35"/><circle cx="432.4" cy="286.6" r="2.35"/><circle cx="447.7" cy="298.5" r="2.35"/><circle cx="443.1" cy="282.2" r="2.35"/><circle cx="432.5" cy="285.3" r="2.35"/><circle cx="448.8" cy="287.1" r="2.35"/><circle cx="438.3" cy="275.9" r="2.35"/><circle cx="434.6" cy="264.3" r="2.35"/><circle cx="434.9" cy="311.5" r="2.35"/><circle cx="441.4" cy="290.0" r="2.35"/><circle cx="437.9" cy="272.5" r="2.35"/><circle cx="448.3" cy="288.6" r="2.35"/><circle cx="446.4" cy="294.1" r="2.35"/><circle cx="439.2" cy="298.5" r="2.35"/><circle cx="444.8" cy="276.8" r="2.35"/><circle cx="442.2" cy="293.1" r="2.35"/><circle cx="441.3" cy="268.6" r="2.35"/><circle cx="438.3" cy="272.5" r="2.35"/><circle cx="439.8" cy="307.6" r="2.35"/><circle cx="430.1" cy="286.5" r="2.35"/><circle cx="436.6" cy="283.3" r="2.35"/><circle cx="442.9" cy="294.0" r="2.35"/><circle cx="442.5" cy="290.0" r="2.35"/><circle cx="440.3" cy="285.5" r="2.35"/><circle cx="436.7" cy="292.8" r="2.35"/><circle cx="436.1" cy="289.8" r="2.35"/><circle cx="446.8" cy="275.9" r="2.35"/><circle cx="431.4" cy="271.4" r="2.35"/><circle cx="448.7" cy="298.5" r="2.35"/><circle cx="440.6" cy="272.1" r="2.35"/><circle cx="443.9" cy="272.4" r="2.35"/><circle cx="448.8" cy="304.8" r="2.35"/><circle cx="443.8" cy="275.9" r="2.35"/><circle cx="441.5" cy="296.8" r="2.35"/><circle cx="429.4" cy="279.3" r="2.35"/><circle cx="433.7" cy="288.3" r="2.35"/><circle cx="432.8" cy="298.5" r="2.35"/><circle cx="430.8" cy="269.1" r="2.35"/><circle cx="445.3" cy="254.1" r="2.35"/><circle cx="432.7" cy="253.3" r="2.35"/><circle cx="442.9" cy="301.3" r="2.35"/><circle cx="439.3" cy="272.5" r="2.35"/><circle cx="438.8" cy="279.6" r="2.35"/><circle cx="442.6" cy="307.1" r="2.35"/><circle cx="439.2" cy="278.0" r="2.35"/><circle cx="430.7" cy="270.1" r="2.35"/><circle cx="445.0" cy="275.8" r="2.35"/><circle cx="432.9" cy="273.1" r="2.35"/><circle cx="435.7" cy="307.1" r="2.35"/><circle cx="448.3" cy="287.2" r="2.35"/><circle cx="432.9" cy="263.8" r="2.35"/><circle cx="437.1" cy="294.1" r="2.35"/><circle cx="440.1" cy="258.2" r="2.35"/><circle cx="435.8" cy="261.7" r="2.35"/><circle cx="438.2" cy="294.1" r="2.35"/><circle cx="444.6" cy="275.9" r="2.35"/><circle cx="442.5" cy="294.1" r="2.35"/><circle cx="438.9" cy="263.8" r="2.35"/><circle cx="434.0" cy="306.1" r="2.35"/><circle cx="443.0" cy="275.9" r="2.35"/><circle cx="461.6" cy="302.8" r="2.35"/><circle cx="461.3" cy="295.0" r="2.35"/><circle cx="469.8" cy="259.5" r="2.35"/><circle cx="461.4" cy="265.2" r="2.35"/><circle cx="456.6" cy="303.6" r="2.35"/><circle cx="467.3" cy="273.1" r="2.35"/><circle cx="472.4" cy="263.8" r="2.35"/><circle cx="458.6" cy="275.9" r="2.35"/><circle cx="471.1" cy="295.6" r="2.35"/><circle cx="468.1" cy="311.5" r="2.35"/><circle cx="474.4" cy="297.8" r="2.35"/><circle cx="457.5" cy="255.2" r="2.35"/><circle cx="459.8" cy="275.9" r="2.35"/><circle cx="471.5" cy="256.0" r="2.35"/><circle cx="466.1" cy="267.2" r="2.35"/><circle cx="460.2" cy="302.8" r="2.35"/><circle cx="456.5" cy="292.5" r="2.35"/><circle cx="472.3" cy="314.2" r="2.35"/><circle cx="472.0" cy="275.9" r="2.35"/><circle cx="462.4" cy="307.1" r="2.35"/><circle cx="459.1" cy="280.5" r="2.35"/><circle cx="473.9" cy="261.1" r="2.35"/><circle cx="461.1" cy="249.2" r="2.35"/><circle cx="461.2" cy="272.5" r="2.35"/><circle cx="469.8" cy="264.6" r="2.35"/><circle cx="472.2" cy="285.5" r="2.35"/><circle cx="472.6" cy="281.1" r="2.35"/><circle cx="460.1" cy="272.5" r="2.35"/><circle cx="463.7" cy="275.9" r="2.35"/><circle cx="462.3" cy="291.1" r="2.35"/><circle cx="459.8" cy="289.6" r="2.35"/><circle cx="469.6" cy="320.0" r="2.35"/><circle cx="468.7" cy="290.1" r="2.35"/><circle cx="460.8" cy="257.2" r="2.35"/><circle cx="456.4" cy="254.3" r="2.35"/><circle cx="458.4" cy="307.1" r="2.35"/><circle cx="459.7" cy="281.1" r="2.35"/><circle cx="466.2" cy="293.5" r="2.35"/><circle cx="469.0" cy="297.1" r="2.35"/><circle cx="469.7" cy="313.3" r="2.35"/><circle cx="461.2" cy="284.2" r="2.35"/><circle cx="460.7" cy="273.7" r="2.35"/><circle cx="464.3" cy="281.1" r="2.35"/><circle cx="456.2" cy="268.8" r="2.35"/><circle cx="462.8" cy="310.3" r="2.35"/><circle cx="459.5" cy="272.5" r="2.35"/><circle cx="468.6" cy="280.2" r="2.35"/><circle cx="456.3" cy="284.0" r="2.35"/><circle cx="463.3" cy="307.1" r="2.35"/><circle cx="461.1" cy="315.8" r="2.35"/><circle cx="456.9" cy="294.1" r="2.35"/><circle cx="472.0" cy="298.5" r="2.35"/><circle cx="472.8" cy="298.7" r="2.35"/><circle cx="460.8" cy="288.9" r="2.35"/><circle cx="465.1" cy="296.3" r="2.35"/><circle cx="465.3" cy="276.8" r="2.35"/><circle cx="461.6" cy="265.9" r="2.35"/><circle cx="458.2" cy="285.5" r="2.35"/><circle cx="460.6" cy="283.1" r="2.35"/><circle cx="474.5" cy="275.9" r="2.35"/><circle cx="463.9" cy="315.8" r="2.35"/><circle cx="459.9" cy="298.5" r="2.35"/><circle cx="473.8" cy="289.8" r="2.35"/><circle cx="472.9" cy="275.8" r="2.35"/><circle cx="474.0" cy="294.1" r="2.35"/><circle cx="456.6" cy="253.3" r="2.35"/><circle cx="456.2" cy="263.8" r="2.35"/><circle cx="465.5" cy="310.2" r="2.35"/><circle cx="463.0" cy="276.8" r="2.35"/><circle cx="472.1" cy="314.2" r="2.35"/><circle cx="473.1" cy="263.8" r="2.35"/><circle cx="472.5" cy="253.7" r="2.35"/><circle cx="461.9" cy="302.8" r="2.35"/><circle cx="456.8" cy="315.8" r="2.35"/><circle cx="464.7" cy="285.5" r="2.35"/><circle cx="471.6" cy="312.1" r="2.35"/><circle cx="458.7" cy="286.8" r="2.35"/><circle cx="461.8" cy="263.8" r="2.35"/><circle cx="459.3" cy="275.9" r="2.35"/><circle cx="469.2" cy="268.1" r="2.35"/><circle cx="474.3" cy="288.3" r="2.35"/><circle cx="461.7" cy="246.3" r="2.35"/><circle cx="471.3" cy="259.2" r="2.35"/><circle cx="474.6" cy="285.5" r="2.35"/><circle cx="457.6" cy="297.9" r="2.35"/><circle cx="487.4" cy="328.8" r="2.35"/><circle cx="504.5" cy="320.1" r="2.35"/><circle cx="496.7" cy="316.0" r="2.35"/><circle cx="503.4" cy="314.2" r="2.35"/><circle cx="502.7" cy="283.2" r="2.35"/><circle cx="499.7" cy="267.1" r="2.35"/><circle cx="507.3" cy="327.9" r="2.35"/><circle cx="489.6" cy="305.9" r="2.35"/><circle cx="504.4" cy="262.6" r="2.35"/><circle cx="501.6" cy="292.2" r="2.35"/><circle cx="505.3" cy="289.8" r="2.35"/><circle cx="487.1" cy="281.1" r="2.35"/><circle cx="503.1" cy="298.5" r="2.35"/><circle cx="494.6" cy="317.3" r="2.35"/><circle cx="495.9" cy="324.4" r="2.35"/><circle cx="497.9" cy="286.2" r="2.35"/><circle cx="497.5" cy="314.5" r="2.35"/><circle cx="500.2" cy="332.6" r="2.35"/><circle cx="502.6" cy="289.7" r="2.35"/><circle cx="495.2" cy="299.5" r="2.35"/><circle cx="504.4" cy="281.1" r="2.35"/><circle cx="503.2" cy="315.8" r="2.35"/><circle cx="496.8" cy="307.1" r="2.35"/><circle cx="497.3" cy="300.4" r="2.35"/><circle cx="492.1" cy="299.4" r="2.35"/><circle cx="505.5" cy="295.5" r="2.35"/><circle cx="500.3" cy="315.7" r="2.35"/><circle cx="497.1" cy="294.1" r="2.35"/><circle cx="503.0" cy="301.7" r="2.35"/><circle cx="490.1" cy="333.1" r="2.35"/><circle cx="492.5" cy="301.1" r="2.35"/><circle cx="497.5" cy="289.8" r="2.35"/><circle cx="497.4" cy="275.9" r="2.35"/><circle cx="488.3" cy="309.8" r="2.35"/><circle cx="507.5" cy="293.6" r="2.35"/><circle cx="496.3" cy="281.9" r="2.35"/><circle cx="507.6" cy="296.0" r="2.35"/><circle cx="493.6" cy="294.1" r="2.35"/><circle cx="490.7" cy="328.8" r="2.35"/><circle cx="493.3" cy="310.3" r="2.35"/><circle cx="495.0" cy="320.1" r="2.35"/><circle cx="488.4" cy="295.0" r="2.35"/><circle cx="502.3" cy="297.0" r="2.35"/><circle cx="500.2" cy="263.8" r="2.35"/><circle cx="503.4" cy="315.8" r="2.35"/><circle cx="505.9" cy="326.6" r="2.35"/><circle cx="498.5" cy="295.6" r="2.35"/><circle cx="490.3" cy="285.5" r="2.35"/><circle cx="489.8" cy="278.2" r="2.35"/><circle cx="489.6" cy="333.1" r="2.35"/><circle cx="497.7" cy="275.9" r="2.35"/><circle cx="503.6" cy="320.1" r="2.35"/><circle cx="498.7" cy="276.8" r="2.35"/><circle cx="493.8" cy="294.2" r="2.35"/><circle cx="501.0" cy="264.1" r="2.35"/><circle cx="501.1" cy="320.1" r="2.35"/><circle cx="496.0" cy="307.1" r="2.35"/><circle cx="490.8" cy="295.5" r="2.35"/><circle cx="502.4" cy="273.4" r="2.35"/><circle cx="489.4" cy="289.8" r="2.35"/><circle cx="489.2" cy="286.8" r="2.35"/><circle cx="495.2" cy="297.1" r="2.35"/><circle cx="506.6" cy="325.3" r="2.35"/><circle cx="494.3" cy="310.2" r="2.35"/><circle cx="493.1" cy="324.4" r="2.35"/><circle cx="497.1" cy="320.7" r="2.35"/><circle cx="488.0" cy="285.5" r="2.35"/><circle cx="498.0" cy="273.8" r="2.35"/><circle cx="507.5" cy="294.1" r="2.35"/><circle cx="489.5" cy="329.7" r="2.35"/><circle cx="499.1" cy="297.7" r="2.35"/><circle cx="493.9" cy="293.3" r="2.35"/><circle cx="491.5" cy="263.8" r="2.35"/><circle cx="505.0" cy="333.8" r="2.35"/><circle cx="505.1" cy="314.2" r="2.35"/><circle cx="490.2" cy="294.1" r="2.35"/><circle cx="492.4" cy="305.0" r="2.35"/><circle cx="492.5" cy="278.8" r="2.35"/><circle cx="502.5" cy="314.2" r="2.35"/><circle cx="507.8" cy="304.1" r="2.35"/><circle cx="498.4" cy="285.5" r="2.35"/><circle cx="492.1" cy="315.8" r="2.35"/><circle cx="507.2" cy="331.6" r="2.35"/><circle cx="497.2" cy="268.1" r="2.35"/><circle cx="500.2" cy="301.9" r="2.35"/><circle cx="506.7" cy="327.6" r="2.35"/><circle cx="490.3" cy="308.5" r="2.35"/><circle cx="504.6" cy="296.0" r="2.35"/><circle cx="540.0" cy="297.2" r="2.35"/><circle cx="527.1" cy="259.4" r="2.35"/><circle cx="527.2" cy="250.8" r="2.35"/><circle cx="538.0" cy="283.1" r="2.35"/><circle cx="522.1" cy="318.2" r="2.35"/><circle cx="539.7" cy="314.2" r="2.35"/><circle cx="524.8" cy="319.6" r="2.35"/><circle cx="529.6" cy="317.7" r="2.35"/><circle cx="532.3" cy="288.1" r="2.35"/><circle cx="531.6" cy="263.8" r="2.35"/><circle cx="522.1" cy="320.1" r="2.35"/><circle cx="537.0" cy="277.4" r="2.35"/><circle cx="525.9" cy="261.0" r="2.35"/><circle cx="531.8" cy="329.0" r="2.35"/><circle cx="536.0" cy="321.3" r="2.35"/><circle cx="540.7" cy="324.4" r="2.35"/><circle cx="532.7" cy="258.8" r="2.35"/><circle cx="522.5" cy="258.9" r="2.35"/><circle cx="522.8" cy="314.1" r="2.35"/><circle cx="536.5" cy="282.0" r="2.35"/><circle cx="537.4" cy="272.5" r="2.35"/><circle cx="522.8" cy="246.5" r="2.35"/><circle cx="521.2" cy="250.5" r="2.35"/><circle cx="528.5" cy="275.9" r="2.35"/><circle cx="523.2" cy="268.1" r="2.35"/><circle cx="542.2" cy="314.6" r="2.35"/><circle cx="529.4" cy="300.1" r="2.35"/><circle cx="522.4" cy="275.9" r="2.35"/><circle cx="535.0" cy="259.5" r="2.35"/><circle cx="537.3" cy="285.5" r="2.35"/><circle cx="526.2" cy="282.9" r="2.35"/><circle cx="536.5" cy="285.5" r="2.35"/><circle cx="531.3" cy="244.7" r="2.35"/><circle cx="534.8" cy="254.3" r="2.35"/><circle cx="532.7" cy="324.5" r="2.35"/><circle cx="541.4" cy="276.8" r="2.35"/><circle cx="535.3" cy="294.1" r="2.35"/><circle cx="521.3" cy="312.2" r="2.35"/><circle cx="538.2" cy="269.2" r="2.35"/><circle cx="535.5" cy="276.8" r="2.35"/><circle cx="526.9" cy="263.8" r="2.35"/><circle cx="540.2" cy="258.1" r="2.35"/><circle cx="525.9" cy="323.3" r="2.35"/><circle cx="530.9" cy="265.3" r="2.35"/><circle cx="538.4" cy="301.7" r="2.35"/><circle cx="536.8" cy="255.2" r="2.35"/><circle cx="527.5" cy="289.5" r="2.35"/><circle cx="537.5" cy="272.4" r="2.35"/><circle cx="542.7" cy="307.4" r="2.35"/><circle cx="542.9" cy="297.3" r="2.35"/><circle cx="531.2" cy="268.1" r="2.35"/><circle cx="537.9" cy="255.2" r="2.35"/><circle cx="526.2" cy="314.2" r="2.35"/><circle cx="525.4" cy="322.5" r="2.35"/><circle cx="540.8" cy="264.8" r="2.35"/><circle cx="538.3" cy="289.8" r="2.35"/><circle cx="526.3" cy="275.9" r="2.35"/><circle cx="540.2" cy="280.2" r="2.35"/><circle cx="525.9" cy="263.8" r="2.35"/><circle cx="532.3" cy="307.1" r="2.35"/><circle cx="530.8" cy="254.5" r="2.35"/><circle cx="533.4" cy="317.1" r="2.35"/><circle cx="523.7" cy="262.5" r="2.35"/><circle cx="524.5" cy="301.1" r="2.35"/><circle cx="538.7" cy="312.1" r="2.35"/><circle cx="535.7" cy="290.8" r="2.35"/><circle cx="540.4" cy="285.4" r="2.35"/><circle cx="524.8" cy="289.8" r="2.35"/><circle cx="537.4" cy="268.5" r="2.35"/><circle cx="531.5" cy="245.5" r="2.35"/><circle cx="528.4" cy="259.2" r="2.35"/><circle cx="529.7" cy="280.0" r="2.35"/><circle cx="526.5" cy="316.0" r="2.35"/><circle cx="535.2" cy="325.4" r="2.35"/><circle cx="530.2" cy="285.5" r="2.35"/><circle cx="530.4" cy="237.7" r="2.35"/><circle cx="527.3" cy="310.4" r="2.35"/><circle cx="535.6" cy="264.3" r="2.35"/><circle cx="539.6" cy="302.8" r="2.35"/><circle cx="542.2" cy="259.5" r="2.35"/><circle cx="534.1" cy="314.2" r="2.35"/><circle cx="535.8" cy="302.8" r="2.35"/><circle cx="536.6" cy="296.5" r="2.35"/><circle cx="534.9" cy="294.1" r="2.35"/><circle cx="536.7" cy="285.2" r="2.35"/><circle cx="522.3" cy="284.9" r="2.35"/><circle cx="530.4" cy="307.8" r="2.35"/><circle cx="526.7" cy="259.2" r="2.35"/><circle cx="525.7" cy="263.5" r="2.35"/><circle cx="533.9" cy="241.4" r="2.35"/><circle cx="540.5" cy="254.8" r="2.35"/><circle cx="526.0" cy="265.0" r="2.35"/><circle cx="525.4" cy="261.2" r="2.35"/><circle cx="534.6" cy="268.1" r="2.35"/><circle cx="539.9" cy="319.2" r="2.35"/><circle cx="533.3" cy="294.1" r="2.35"/><circle cx="532.3" cy="289.8" r="2.35"/><circle cx="538.8" cy="310.8" r="2.35"/><circle cx="569.0" cy="314.2" r="2.35"/><circle cx="554.3" cy="296.4" r="2.35"/><circle cx="561.3" cy="250.8" r="2.35"/><circle cx="553.1" cy="256.7" r="2.35"/><circle cx="572.6" cy="311.9" r="2.35"/><circle cx="573.0" cy="268.8" r="2.35"/><circle cx="562.2" cy="263.8" r="2.35"/><circle cx="571.7" cy="281.3" r="2.35"/><circle cx="556.8" cy="272.5" r="2.35"/><circle cx="557.1" cy="277.2" r="2.35"/><circle cx="553.1" cy="245.4" r="2.35"/><circle cx="569.2" cy="292.0" r="2.35"/><circle cx="552.4" cy="328.8" r="2.35"/><circle cx="572.8" cy="250.8" r="2.35"/><circle cx="556.8" cy="275.9" r="2.35"/><circle cx="564.1" cy="233.5" r="2.35"/><circle cx="573.2" cy="314.2" r="2.35"/><circle cx="567.6" cy="267.4" r="2.35"/><circle cx="572.0" cy="237.8" r="2.35"/><circle cx="571.4" cy="242.1" r="2.35"/><circle cx="570.6" cy="237.7" r="2.35"/><circle cx="557.9" cy="327.5" r="2.35"/><circle cx="555.0" cy="252.5" r="2.35"/><circle cx="557.6" cy="283.0" r="2.35"/><circle cx="571.3" cy="289.8" r="2.35"/><circle cx="564.9" cy="281.1" r="2.35"/><circle cx="554.4" cy="259.5" r="2.35"/><circle cx="567.5" cy="241.2" r="2.35"/><circle cx="566.8" cy="326.3" r="2.35"/><circle cx="564.2" cy="246.5" r="2.35"/><circle cx="568.3" cy="285.5" r="2.35"/><circle cx="561.5" cy="297.1" r="2.35"/><circle cx="558.0" cy="293.3" r="2.35"/><circle cx="571.1" cy="334.0" r="2.35"/><circle cx="571.8" cy="301.7" r="2.35"/><circle cx="554.0" cy="289.8" r="2.35"/><circle cx="569.4" cy="300.9" r="2.35"/><circle cx="562.3" cy="298.8" r="2.35"/><circle cx="561.3" cy="259.5" r="2.35"/><circle cx="561.5" cy="313.6" r="2.35"/><circle cx="554.1" cy="230.4" r="2.35"/><circle cx="553.6" cy="298.5" r="2.35"/><circle cx="557.4" cy="275.1" r="2.35"/><circle cx="564.5" cy="251.0" r="2.35"/><circle cx="565.8" cy="263.7" r="2.35"/><circle cx="572.0" cy="314.8" r="2.35"/><circle cx="564.4" cy="298.7" r="2.35"/><circle cx="568.0" cy="262.6" r="2.35"/><circle cx="560.7" cy="248.3" r="2.35"/><circle cx="554.2" cy="289.8" r="2.35"/><circle cx="571.0" cy="237.8" r="2.35"/><circle cx="557.0" cy="311.5" r="2.35"/><circle cx="552.5" cy="275.9" r="2.35"/><circle cx="570.1" cy="314.6" r="2.35"/><circle cx="552.1" cy="289.3" r="2.35"/><circle cx="553.8" cy="275.9" r="2.35"/><circle cx="557.9" cy="255.2" r="2.35"/><circle cx="564.2" cy="302.0" r="2.35"/><circle cx="573.0" cy="314.2" r="2.35"/><circle cx="566.5" cy="275.9" r="2.35"/><circle cx="565.9" cy="285.5" r="2.35"/><circle cx="556.9" cy="328.2" r="2.35"/><circle cx="557.7" cy="275.9" r="2.35"/><circle cx="560.3" cy="312.9" r="2.35"/><circle cx="565.7" cy="298.4" r="2.35"/><circle cx="572.8" cy="294.1" r="2.35"/><circle cx="561.9" cy="273.5" r="2.35"/><circle cx="553.2" cy="272.5" r="2.35"/><circle cx="561.3" cy="315.8" r="2.35"/><circle cx="560.4" cy="263.8" r="2.35"/><circle cx="556.8" cy="250.8" r="2.35"/><circle cx="565.7" cy="257.2" r="2.35"/><circle cx="565.9" cy="259.5" r="2.35"/><circle cx="571.3" cy="263.8" r="2.35"/><circle cx="567.3" cy="269.4" r="2.35"/><circle cx="567.3" cy="324.4" r="2.35"/><circle cx="569.3" cy="276.1" r="2.35"/><circle cx="571.7" cy="263.8" r="2.35"/><circle cx="561.5" cy="330.5" r="2.35"/><circle cx="560.9" cy="307.1" r="2.35"/><circle cx="570.0" cy="263.8" r="2.35"/><circle cx="560.8" cy="272.5" r="2.35"/><circle cx="553.9" cy="311.5" r="2.35"/><circle cx="563.0" cy="306.4" r="2.35"/><circle cx="566.8" cy="288.8" r="2.35"/><circle cx="562.2" cy="255.2" r="2.35"/><circle cx="560.1" cy="285.5" r="2.35"/><circle cx="569.9" cy="324.0" r="2.35"/><circle cx="564.2" cy="311.5" r="2.35"/><circle cx="552.4" cy="260.0" r="2.35"/><circle cx="563.8" cy="329.3" r="2.35"/><circle cx="554.2" cy="263.0" r="2.35"/><circle cx="568.2" cy="227.0" r="2.35"/><circle cx="562.5" cy="275.9" r="2.35"/><circle cx="571.7" cy="236.7" r="2.35"/><circle cx="563.0" cy="305.7" r="2.35"/><circle cx="571.6" cy="276.8" r="2.35"/><circle cx="563.6" cy="320.1" r="2.35"/><circle cx="566.7" cy="263.8" r="2.35"/><circle cx="572.1" cy="255.2" r="2.35"/><circle cx="564.9" cy="241.2" r="2.35"/><circle cx="567.9" cy="311.5" r="2.35"/><circle cx="552.2" cy="293.5" r="2.35"/><circle cx="573.1" cy="312.2" r="2.35"/><circle cx="571.8" cy="310.5" r="2.35"/><circle cx="560.9" cy="231.0" r="2.35"/><circle cx="564.8" cy="289.8" r="2.35"/><circle cx="560.5" cy="328.3" r="2.35"/><circle cx="599.9" cy="251.2" r="2.35"/><circle cx="586.6" cy="275.9" r="2.35"/><circle cx="595.3" cy="275.9" r="2.35"/><circle cx="599.4" cy="237.7" r="2.35"/><circle cx="585.9" cy="269.5" r="2.35"/><circle cx="586.4" cy="298.5" r="2.35"/><circle cx="602.4" cy="275.9" r="2.35"/><circle cx="600.9" cy="286.6" r="2.35"/><circle cx="598.9" cy="303.2" r="2.35"/><circle cx="584.2" cy="279.1" r="2.35"/><circle cx="597.4" cy="314.2" r="2.35"/><circle cx="589.0" cy="255.2" r="2.35"/><circle cx="599.7" cy="255.2" r="2.35"/><circle cx="604.0" cy="275.9" r="2.35"/><circle cx="597.9" cy="232.3" r="2.35"/><circle cx="587.6" cy="264.0" r="2.35"/><circle cx="596.3" cy="314.2" r="2.35"/><circle cx="600.0" cy="294.7" r="2.35"/><circle cx="602.2" cy="243.3" r="2.35"/><circle cx="604.0" cy="224.8" r="2.35"/><circle cx="604.5" cy="229.2" r="2.35"/><circle cx="603.6" cy="288.4" r="2.35"/><circle cx="593.5" cy="296.4" r="2.35"/><circle cx="590.7" cy="276.8" r="2.35"/><circle cx="590.1" cy="320.1" r="2.35"/><circle cx="597.9" cy="229.2" r="2.35"/><circle cx="597.4" cy="316.7" r="2.35"/><circle cx="595.1" cy="285.5" r="2.35"/><circle cx="604.1" cy="238.3" r="2.35"/><circle cx="600.1" cy="224.8" r="2.35"/><circle cx="593.0" cy="230.1" r="2.35"/><circle cx="593.6" cy="314.2" r="2.35"/><circle cx="603.4" cy="275.9" r="2.35"/><circle cx="598.8" cy="246.7" r="2.35"/><circle cx="588.5" cy="294.1" r="2.35"/><circle cx="592.1" cy="285.5" r="2.35"/><circle cx="603.5" cy="253.7" r="2.35"/><circle cx="591.1" cy="286.7" r="2.35"/><circle cx="589.0" cy="294.2" r="2.35"/><circle cx="588.9" cy="246.5" r="2.35"/><circle cx="593.3" cy="281.1" r="2.35"/><circle cx="588.2" cy="246.5" r="2.35"/><circle cx="604.6" cy="235.3" r="2.35"/><circle cx="605.4" cy="264.8" r="2.35"/><circle cx="592.9" cy="299.4" r="2.35"/><circle cx="594.8" cy="266.7" r="2.35"/><circle cx="589.9" cy="243.9" r="2.35"/><circle cx="601.6" cy="294.1" r="2.35"/><circle cx="593.6" cy="260.0" r="2.35"/><circle cx="584.9" cy="272.5" r="2.35"/><circle cx="600.9" cy="246.0" r="2.35"/><circle cx="593.2" cy="307.1" r="2.35"/><circle cx="588.6" cy="276.8" r="2.35"/><circle cx="586.9" cy="237.8" r="2.35"/><circle cx="598.9" cy="263.0" r="2.35"/><circle cx="600.8" cy="281.1" r="2.35"/><circle cx="603.1" cy="239.3" r="2.35"/><circle cx="596.9" cy="249.6" r="2.35"/><circle cx="597.8" cy="289.8" r="2.35"/><circle cx="584.3" cy="262.9" r="2.35"/><circle cx="591.2" cy="268.1" r="2.35"/><circle cx="603.6" cy="314.9" r="2.35"/><circle cx="592.4" cy="314.2" r="2.35"/><circle cx="601.9" cy="285.0" r="2.35"/><circle cx="584.7" cy="268.1" r="2.35"/><circle cx="593.3" cy="267.0" r="2.35"/><circle cx="604.2" cy="249.6" r="2.35"/><circle cx="588.4" cy="289.8" r="2.35"/><circle cx="601.0" cy="270.5" r="2.35"/><circle cx="590.5" cy="298.5" r="2.35"/><circle cx="601.8" cy="237.7" r="2.35"/><circle cx="594.8" cy="275.9" r="2.35"/><circle cx="605.5" cy="302.8" r="2.35"/><circle cx="592.7" cy="306.9" r="2.35"/><circle cx="588.8" cy="263.8" r="2.35"/><circle cx="594.7" cy="298.5" r="2.35"/><circle cx="592.0" cy="302.8" r="2.35"/><circle cx="600.3" cy="291.9" r="2.35"/><circle cx="587.0" cy="260.2" r="2.35"/><circle cx="598.2" cy="238.8" r="2.35"/><circle cx="602.1" cy="237.7" r="2.35"/><circle cx="597.8" cy="314.5" r="2.35"/><circle cx="604.2" cy="294.6" r="2.35"/><circle cx="584.8" cy="240.0" r="2.35"/><circle cx="589.1" cy="302.1" r="2.35"/><circle cx="598.9" cy="253.5" r="2.35"/><circle cx="599.2" cy="231.4" r="2.35"/><circle cx="604.0" cy="278.9" r="2.35"/><circle cx="600.1" cy="256.9" r="2.35"/><circle cx="592.1" cy="253.2" r="2.35"/><circle cx="602.3" cy="227.3" r="2.35"/><circle cx="592.3" cy="285.6" r="2.35"/><circle cx="584.6" cy="266.6" r="2.35"/><circle cx="603.5" cy="271.6" r="2.35"/><circle cx="586.1" cy="272.3" r="2.35"/><circle cx="603.0" cy="302.8" r="2.35"/><circle cx="595.9" cy="275.7" r="2.35"/><circle cx="605.1" cy="270.8" r="2.35"/><circle cx="598.8" cy="255.2" r="2.35"/><circle cx="601.8" cy="229.2" r="2.35"/><circle cx="598.2" cy="293.8" r="2.35"/><circle cx="584.1" cy="271.9" r="2.35"/><circle cx="600.9" cy="245.8" r="2.35"/><circle cx="593.2" cy="289.1" r="2.35"/><circle cx="599.3" cy="270.8" r="2.35"/><circle cx="623.7" cy="296.5" r="2.35"/><circle cx="630.8" cy="225.7" r="2.35"/><circle cx="635.7" cy="272.5" r="2.35"/><circle cx="623.7" cy="276.8" r="2.35"/><circle cx="635.1" cy="275.9" r="2.35"/><circle cx="618.8" cy="261.5" r="2.35"/><circle cx="631.8" cy="226.6" r="2.35"/><circle cx="627.2" cy="250.9" r="2.35"/><circle cx="627.3" cy="242.5" r="2.35"/><circle cx="619.7" cy="271.0" r="2.35"/><circle cx="621.4" cy="234.2" r="2.35"/><circle cx="632.0" cy="265.9" r="2.35"/><circle cx="617.3" cy="242.2" r="2.35"/><circle cx="636.7" cy="250.2" r="2.35"/><circle cx="623.9" cy="294.1" r="2.35"/><circle cx="624.1" cy="240.0" r="2.35"/><circle cx="624.0" cy="242.2" r="2.35"/><circle cx="636.3" cy="276.8" r="2.35"/><circle cx="619.7" cy="298.5" r="2.35"/><circle cx="635.1" cy="250.8" r="2.35"/><circle cx="636.7" cy="294.1" r="2.35"/><circle cx="636.0" cy="260.8" r="2.35"/><circle cx="618.5" cy="224.2" r="2.35"/><circle cx="628.1" cy="223.1" r="2.35"/><circle cx="617.7" cy="224.1" r="2.35"/><circle cx="623.8" cy="246.5" r="2.35"/><circle cx="632.3" cy="249.2" r="2.35"/><circle cx="621.0" cy="255.2" r="2.35"/><circle cx="624.3" cy="290.9" r="2.35"/><circle cx="624.3" cy="289.8" r="2.35"/><circle cx="633.2" cy="272.5" r="2.35"/><circle cx="632.4" cy="242.2" r="2.35"/><circle cx="628.5" cy="264.3" r="2.35"/><circle cx="624.6" cy="270.1" r="2.35"/><circle cx="630.1" cy="242.2" r="2.35"/><circle cx="620.6" cy="298.5" r="2.35"/><circle cx="628.3" cy="237.7" r="2.35"/><circle cx="623.6" cy="229.3" r="2.35"/><circle cx="632.4" cy="246.5" r="2.35"/><circle cx="626.9" cy="255.7" r="2.35"/><circle cx="623.6" cy="284.9" r="2.35"/><circle cx="634.3" cy="237.7" r="2.35"/><circle cx="636.3" cy="272.5" r="2.35"/><circle cx="636.8" cy="267.9" r="2.35"/><circle cx="632.8" cy="263.8" r="2.35"/><circle cx="636.6" cy="246.5" r="2.35"/><circle cx="632.7" cy="257.7" r="2.35"/><circle cx="629.5" cy="248.8" r="2.35"/><circle cx="634.4" cy="242.2" r="2.35"/><circle cx="630.3" cy="237.8" r="2.35"/><circle cx="617.5" cy="289.8" r="2.35"/><circle cx="628.5" cy="314.2" r="2.35"/><circle cx="616.8" cy="275.9" r="2.35"/><circle cx="617.9" cy="233.5" r="2.35"/><circle cx="627.7" cy="276.7" r="2.35"/><circle cx="627.7" cy="302.8" r="2.35"/><circle cx="622.6" cy="272.5" r="2.35"/><circle cx="624.7" cy="259.5" r="2.35"/><circle cx="624.0" cy="245.9" r="2.35"/><circle cx="626.3" cy="280.2" r="2.35"/><circle cx="629.3" cy="298.5" r="2.35"/><circle cx="632.7" cy="254.5" r="2.35"/><circle cx="629.4" cy="263.8" r="2.35"/><circle cx="626.1" cy="240.0" r="2.35"/><circle cx="636.8" cy="233.5" r="2.35"/><circle cx="622.6" cy="257.4" r="2.35"/><circle cx="626.4" cy="229.2" r="2.35"/><circle cx="635.9" cy="298.5" r="2.35"/><circle cx="629.1" cy="268.1" r="2.35"/><circle cx="624.7" cy="246.5" r="2.35"/><circle cx="621.9" cy="246.5" r="2.35"/><circle cx="625.7" cy="276.0" r="2.35"/><circle cx="624.5" cy="263.8" r="2.35"/><circle cx="617.2" cy="276.5" r="2.35"/><circle cx="630.3" cy="250.8" r="2.35"/><circle cx="625.0" cy="244.9" r="2.35"/><circle cx="625.5" cy="281.1" r="2.35"/><circle cx="630.7" cy="259.5" r="2.35"/><circle cx="619.5" cy="298.3" r="2.35"/><circle cx="632.0" cy="257.0" r="2.35"/><circle cx="615.3" cy="242.2" r="2.35"/><circle cx="625.9" cy="257.8" r="2.35"/><circle cx="635.9" cy="241.5" r="2.35"/><circle cx="624.0" cy="263.4" r="2.35"/><circle cx="635.0" cy="246.5" r="2.35"/><circle cx="634.4" cy="246.0" r="2.35"/><circle cx="620.4" cy="285.1" r="2.35"/><circle cx="629.7" cy="276.8" r="2.35"/><circle cx="619.3" cy="255.2" r="2.35"/><circle cx="619.4" cy="255.0" r="2.35"/><circle cx="625.3" cy="261.7" r="2.35"/><circle cx="622.9" cy="237.7" r="2.35"/><circle cx="622.9" cy="259.5" r="2.35"/><circle cx="634.1" cy="229.2" r="2.35"/><circle cx="620.6" cy="259.5" r="2.35"/><circle cx="649.3" cy="277.5" r="2.35"/><circle cx="656.3" cy="251.9" r="2.35"/><circle cx="656.6" cy="289.8" r="2.35"/><circle cx="650.9" cy="288.5" r="2.35"/><circle cx="658.4" cy="278.0" r="2.35"/><circle cx="651.3" cy="248.6" r="2.35"/><circle cx="649.2" cy="237.7" r="2.35"/><circle cx="658.0" cy="259.5" r="2.35"/><circle cx="657.9" cy="274.9" r="2.35"/><circle cx="646.6" cy="237.2" r="2.35"/><circle cx="653.9" cy="263.8" r="2.35"/><circle cx="650.0" cy="242.2" r="2.35"/><circle cx="658.0" cy="291.5" r="2.35"/><circle cx="657.9" cy="234.2" r="2.35"/><circle cx="646.8" cy="230.5" r="2.35"/><circle cx="647.4" cy="239.5" r="2.35"/><circle cx="648.1" cy="294.1" r="2.35"/><circle cx="659.0" cy="246.5" r="2.35"/><circle cx="646.3" cy="276.8" r="2.35"/><circle cx="647.9" cy="257.5" r="2.35"/><circle cx="658.8" cy="230.8" r="2.35"/><circle cx="652.9" cy="304.0" r="2.35"/><circle cx="656.5" cy="281.1" r="2.35"/><circle cx="663.4" cy="276.8" r="2.35"/><circle cx="646.2" cy="238.6" r="2.35"/><circle cx="660.6" cy="294.1" r="2.35"/><circle cx="658.2" cy="254.4" r="2.35"/><circle cx="646.1" cy="237.7" r="2.35"/><circle cx="649.6" cy="281.9" r="2.35"/><circle cx="650.3" cy="242.2" r="2.35"/><circle cx="646.3" cy="289.8" r="2.35"/><circle cx="660.4" cy="273.9" r="2.35"/><circle cx="652.9" cy="243.8" r="2.35"/><circle cx="666.7" cy="257.8" r="2.35"/><circle cx="647.8" cy="302.8" r="2.35"/><circle cx="662.0" cy="260.7" r="2.35"/><circle cx="662.5" cy="242.2" r="2.35"/><circle cx="648.2" cy="289.8" r="2.35"/><circle cx="657.7" cy="287.0" r="2.35"/><circle cx="666.8" cy="237.7" r="2.35"/><circle cx="658.7" cy="281.1" r="2.35"/><circle cx="652.2" cy="237.8" r="2.35"/><circle cx="651.5" cy="296.9" r="2.35"/><circle cx="649.5" cy="281.1" r="2.35"/><circle cx="657.7" cy="255.2" r="2.35"/><circle cx="663.9" cy="269.6" r="2.35"/><circle cx="653.3" cy="250.8" r="2.35"/><circle cx="661.2" cy="285.5" r="2.35"/><circle cx="649.3" cy="270.4" r="2.35"/><circle cx="651.1" cy="294.5" r="2.35"/><circle cx="648.4" cy="285.5" r="2.35"/><circle cx="658.2" cy="226.0" r="2.35"/><circle cx="667.5" cy="295.5" r="2.35"/><circle cx="650.4" cy="255.2" r="2.35"/><circle cx="663.0" cy="231.4" r="2.35"/><circle cx="659.1" cy="237.7" r="2.35"/><circle cx="666.2" cy="263.4" r="2.35"/><circle cx="658.1" cy="242.2" r="2.35"/><circle cx="646.3" cy="268.1" r="2.35"/><circle cx="658.9" cy="298.5" r="2.35"/><circle cx="648.5" cy="268.1" r="2.35"/><circle cx="656.0" cy="283.7" r="2.35"/><circle cx="646.4" cy="297.9" r="2.35"/><circle cx="658.6" cy="242.2" r="2.35"/><circle cx="655.9" cy="291.1" r="2.35"/><circle cx="647.1" cy="293.4" r="2.35"/><circle cx="650.7" cy="237.8" r="2.35"/><circle cx="659.2" cy="231.7" r="2.35"/><circle cx="662.2" cy="259.5" r="2.35"/><circle cx="646.4" cy="250.1" r="2.35"/><circle cx="646.3" cy="275.9" r="2.35"/><circle cx="657.0" cy="246.5" r="2.35"/><circle cx="665.9" cy="238.6" r="2.35"/><circle cx="656.1" cy="250.8" r="2.35"/><circle cx="663.6" cy="250.8" r="2.35"/><circle cx="652.6" cy="257.5" r="2.35"/><circle cx="657.8" cy="285.5" r="2.35"/><circle cx="658.0" cy="272.4" r="2.35"/><circle cx="655.7" cy="269.4" r="2.35"/><circle cx="661.5" cy="258.5" r="2.35"/><circle cx="660.6" cy="237.8" r="2.35"/><circle cx="651.9" cy="280.6" r="2.35"/><circle cx="659.5" cy="263.8" r="2.35"/><circle cx="666.2" cy="252.7" r="2.35"/><circle cx="650.0" cy="289.5" r="2.35"/><circle cx="647.4" cy="272.5" r="2.35"/><circle cx="647.0" cy="251.4" r="2.35"/><circle cx="661.2" cy="272.1" r="2.35"/><circle cx="653.2" cy="246.5" r="2.35"/><circle cx="650.5" cy="246.5" r="2.35"/><circle cx="660.8" cy="237.7" r="2.35"/><circle cx="650.4" cy="308.0" r="2.35"/><circle cx="649.9" cy="294.1" r="2.35"/><circle cx="657.6" cy="233.5" r="2.35"/><circle cx="664.5" cy="275.9" r="2.35"/></g>
<polyline fill="none" stroke="#FA5C42" stroke-width="2.5" points="336.86,123.98 339.62,126.87 342.38,129.77 345.14,132.67 347.90,135.57 350.66,138.47 353.42,141.36 356.18,144.25 358.94,147.11 361.70,149.97 364.46,152.80 367.22,155.60 369.98,158.39 372.75,161.14 375.51,163.86 378.27,166.55 381.03,169.20 383.79,171.81 386.55,174.38 389.31,176.90 392.07,179.38 394.83,181.81 397.59,184.19 400.35,186.52 403.11,188.79 405.87,191.01 408.63,193.16 411.39,195.26 414.16,197.30 416.92,199.28 419.68,201.19 422.44,203.04 425.20,204.82 427.96,206.53 430.72,208.18 433.48,209.75 436.24,211.26 439.00,212.70 441.76,214.06 444.52,215.36 447.28,216.58 450.04,217.73 452.81,218.80 455.57,219.81 458.33,220.74 461.09,221.60 463.85,222.39 466.61,223.10 469.37,223.74 472.13,224.31 474.89,224.81 477.65,225.24 480.41,225.60 483.17,225.89 485.93,226.11 488.69,226.26 491.46,226.35 494.22,226.37 496.98,226.33 499.74,226.23 502.50,226.06 505.26,225.83 508.02,225.55 510.78,225.21 513.54,224.81 516.30,224.37 519.06,223.87 521.82,223.32 524.58,222.72 527.34,222.08 530.10,221.40 532.87,220.68 535.63,219.92 538.39,219.12 541.15,218.29 543.91,217.44 546.67,216.55 549.43,215.64 552.19,214.71 554.95,213.77 557.71,212.81 560.47,211.84 563.23,210.86 565.99,209.87 568.75,208.89 571.52,207.90 574.28,206.93 577.04,205.96 579.80,205.01 582.56,204.08 585.32,203.17 588.08,202.29 590.84,201.44 593.60,200.62 596.36,199.85 599.12,199.11 601.88,198.43 604.64,197.80 607.40,197.23 610.17,196.72 612.93,196.29 615.69,195.92 618.45,195.63 621.21,195.43 623.97,195.32 626.73,195.30 629.49,195.39 632.25,195.58 635.01,195.88 637.77,196.30 640.53,196.84 643.29,197.51 646.05,198.32 648.81,199.27 651.58,200.37 654.34,201.63 657.10,203.04 659.86,204.62 662.62,206.38 665.38,208.32"/>
<polyline fill="none" stroke="#CD5252" stroke-width="2.5" points="336.86,298.73 339.62,301.60 342.38,304.38 345.14,307.09 347.90,309.71 350.66,312.25 353.42,314.72 356.18,317.10 358.94,319.41 361.70,321.64 364.46,323.79 367.22,325.88 369.98,327.89 372.75,329.82 375.51,331.69 378.27,333.49 381.03,335.22 383.79,336.88 386.55,338.47 389.31,340.00 392.07,341.47 394.83,342.87 397.59,344.21 400.35,345.49 403.11,346.71 405.87,347.87 408.63,348.98 411.39,350.03 414.16,351.02 416.92,351.96 419.68,352.84 422.44,353.67 425.20,354.45 427.96,355.19 430.72,355.87 433.48,356.50 436.24,357.09 439.00,357.63 441.76,358.13 444.52,358.59 447.28,359.00 450.04,359.37 452.81,359.70 455.57,359.99 458.33,360.25 461.09,360.46 463.85,360.65 466.61,360.79 469.37,360.90 472.13,360.98 474.89,361.03 477.65,361.05 480.41,361.04 483.17,361.00 485.93,360.94 488.69,360.84 491.46,360.73 494.22,360.59 496.98,360.42 499.74,360.24 502.50,360.03 505.26,359.81 508.02,359.56 510.78,359.30 513.54,359.02 516.30,358.73 519.06,358.43 521.82,358.11 524.58,357.78 527.34,357.43 530.10,357.08 532.87,356.72 535.63,356.35 538.39,355.98 541.15,355.60 543.91,355.22 546.67,354.83 549.43,354.44 552.19,354.05 554.95,353.66 557.71,353.27 560.47,352.89 563.23,352.51 565.99,352.13 568.75,351.76 571.52,351.39 574.28,351.03 577.04,350.68 579.80,350.34 582.56,350.01 585.32,349.70 588.08,349.39 590.84,349.11 593.60,348.83 596.36,348.57 599.12,348.34 601.88,348.11 604.64,347.91 607.40,347.73 610.17,347.57 612.93,347.44 615.69,347.33 618.45,347.24 621.21,347.18 623.97,347.15 626.73,347.15 629.49,347.17 632.25,347.23 635.01,347.31 637.77,347.43 640.53,347.59 643.29,347.78 646.05,348.00 648.81,348.27 651.58,348.57 654.34,348.91 657.10,349.29 659.86,349.71 662.62,350.17 665.38,350.68"/>
<g fill="#FA5C42" stroke="#FA5C42" stroke-width="0.22"><text x="319.34" y="100.70" font-size="13.0" font-style="italic">y</text><text x="328.27" y="100.70" font-size="13.0">=</text><text x="339.04" y="100.70" font-size="13.0">87.3</text><text x="366.66" y="100.70" font-size="13.0" fill-opacity="0.85" stroke-opacity="0.42">−</text><text x="376.81" y="100.70" font-size="13.0">1.77</text><text x="406.52" y="100.70" font-size="13.0" font-style="italic">x</text><text x="415.46" y="100.70" font-size="13.0" fill-opacity="0.85" stroke-opacity="0.42">−</text><text x="424.99" y="100.70" font-size="13.0">0.0826</text><text x="469.12" y="100.70" font-size="13.0" font-style="italic">x</text><text x="476.02" y="94.40" font-size="9.5">2</text><text x="483.67" y="102.00" font-size="13.0" fill-opacity="0.85" stroke-opacity="0.42">+</text><text x="493.09" y="100.70" font-size="13.0">0.00649</text><text x="545.22" y="100.70" font-size="13.0" font-style="italic">x</text><text x="551.84" y="94.40" font-size="9.5">3</text><text x="560.16" y="100.70" font-size="13.0" fill-opacity="0.85" stroke-opacity="0.42">−</text><text x="569.39" y="100.70" font-size="13.0">9.32</text><text x="596.90" y="100.70" font-size="13.0" fill-opacity="0.85" stroke-opacity="0.42">×</text><text x="607.11" y="100.70" font-size="13.0">10</text><text x="621.13" y="94.40" font-size="9.5">−5</text><text x="636.32" y="100.70" font-size="13.0" font-style="italic">x</text><text x="642.68" y="94.40" font-size="9.5">4</text></g>
<g fill="#CD5252" stroke="#CD5252" stroke-width="0.22"><text x="371.64" y="411.40" font-size="13.0" font-style="italic">y</text><text x="380.87" y="411.40" font-size="13.0">=</text><text x="391.80" y="411.40" font-size="13.0">49.3</text><text x="419.76" y="411.40" font-size="13.0" fill-opacity="0.6" stroke-opacity="0.30">−</text><text x="429.40" y="411.40" font-size="13.0">3.04</text><text x="458.92" y="411.40" font-size="13.0" font-style="italic">x</text><text x="468.77" y="412.70" font-size="13.0" fill-opacity="0.6" stroke-opacity="0.30">+</text><text x="478.29" y="411.40" font-size="13.0">0.118</text><text x="515.02" y="411.40" font-size="13.0" font-style="italic">x</text><text x="521.52" y="404.60" font-size="9.5">2</text><text x="529.36" y="411.40" font-size="13.0" fill-opacity="0.6" stroke-opacity="0.30">−</text><text x="538.69" y="411.40" font-size="13.0">0.0014</text><text x="583.82" y="411.40" font-size="13.0" font-style="italic">x</text><text x="590.24" y="404.60" font-size="9.5">3</text></g>
<rect x="283.5" y="84.5" width="399.90" height="332.70" fill="none" stroke="#333333" stroke-width="1.07"/>
<line x1="279.80" x2="283.5" y1="402.40" y2="402.40" stroke="#333333" stroke-width="1.07"/>
<text x="277.70" y="406.85" font-size="10.7" text-anchor="end" fill="#4D4D4D" stroke="#4D4D4D" stroke-width="0.22">15</text>
<line x1="279.80" x2="283.5" y1="337.44" y2="337.44" stroke="#333333" stroke-width="1.07"/>
<text x="277.70" y="341.89" font-size="10.7" text-anchor="end" fill="#4D4D4D" stroke="#4D4D4D" stroke-width="0.22">30</text>
<line x1="279.80" x2="283.5" y1="272.48" y2="272.48" stroke="#333333" stroke-width="1.07"/>
<text x="277.70" y="276.93" font-size="10.7" text-anchor="end" fill="#4D4D4D" stroke="#4D4D4D" stroke-width="0.22">45</text>
<line x1="279.80" x2="283.5" y1="207.52" y2="207.52" stroke="#333333" stroke-width="1.07"/>
<text x="277.70" y="211.97" font-size="10.7" text-anchor="end" fill="#4D4D4D" stroke="#4D4D4D" stroke-width="0.22">60</text>
<line x1="279.80" x2="283.5" y1="142.56" y2="142.56" stroke="#333333" stroke-width="1.07"/>
<text x="277.70" y="147.01" font-size="10.7" text-anchor="end" fill="#4D4D4D" stroke="#4D4D4D" stroke-width="0.22">75</text>
<line x1="301.34" x2="301.34" y1="417.2" y2="420.90" stroke="#333333" stroke-width="1.07"/>
<text x="301.34" y="431.20" font-size="10.7" text-anchor="middle" fill="#4D4D4D" stroke="#4D4D4D" stroke-width="0.22">0</text>
<line x1="336.86" x2="336.86" y1="417.2" y2="420.90" stroke="#333333" stroke-width="1.07"/>
<text x="336.86" y="431.20" font-size="10.7" text-anchor="middle" fill="#4D4D4D" stroke="#4D4D4D" stroke-width="0.22">4</text>
<line x1="372.37" x2="372.37" y1="417.2" y2="420.90" stroke="#333333" stroke-width="1.07"/>
<text x="372.37" y="431.20" font-size="10.7" text-anchor="middle" fill="#4D4D4D" stroke="#4D4D4D" stroke-width="0.22">8</text>
<line x1="407.89" x2="407.89" y1="417.2" y2="420.90" stroke="#333333" stroke-width="1.07"/>
<text x="407.89" y="431.20" font-size="10.7" text-anchor="middle" fill="#4D4D4D" stroke="#4D4D4D" stroke-width="0.22">12</text>
<line x1="443.40" x2="443.40" y1="417.2" y2="420.90" stroke="#333333" stroke-width="1.07"/>
<text x="443.40" y="431.20" font-size="10.7" text-anchor="middle" fill="#4D4D4D" stroke="#4D4D4D" stroke-width="0.22">16</text>
<line x1="478.92" x2="478.92" y1="417.2" y2="420.90" stroke="#333333" stroke-width="1.07"/>
<text x="478.92" y="431.20" font-size="10.7" text-anchor="middle" fill="#4D4D4D" stroke="#4D4D4D" stroke-width="0.22">20</text>
<line x1="514.44" x2="514.44" y1="417.2" y2="420.90" stroke="#333333" stroke-width="1.07"/>
<text x="514.44" y="431.20" font-size="10.7" text-anchor="middle" fill="#4D4D4D" stroke="#4D4D4D" stroke-width="0.22">24</text>
<line x1="549.95" x2="549.95" y1="417.2" y2="420.90" stroke="#333333" stroke-width="1.07"/>
<text x="549.95" y="431.20" font-size="10.7" text-anchor="middle" fill="#4D4D4D" stroke="#4D4D4D" stroke-width="0.22">28</text>
<line x1="585.47" x2="585.47" y1="417.2" y2="420.90" stroke="#333333" stroke-width="1.07"/>
<text x="585.47" y="431.20" font-size="10.7" text-anchor="middle" fill="#4D4D4D" stroke="#4D4D4D" stroke-width="0.22">32</text>
<line x1="620.98" x2="620.98" y1="417.2" y2="420.90" stroke="#333333" stroke-width="1.07"/>
<text x="620.98" y="431.20" font-size="10.7" text-anchor="middle" fill="#4D4D4D" stroke="#4D4D4D" stroke-width="0.22">36</text>
<line x1="656.50" x2="656.50" y1="417.2" y2="420.90" stroke="#333333" stroke-width="1.07"/>
<text x="656.50" y="431.20" font-size="10.7" text-anchor="middle" fill="#4D4D4D" stroke="#4D4D4D" stroke-width="0.22">40</text>
<text x="483.45" y="445.7" font-size="13.2" text-anchor="middle" fill="#000" stroke="#000" stroke-width="0.22">Gestational week</text>
<text transform="translate(259.2,250.85) rotate(-90)" font-size="13.2" text-anchor="middle" fill="#000" stroke="#000" stroke-width="0.22">Serum creatinine concentration (μmol/L)</text>
</svg>
</body></html>
